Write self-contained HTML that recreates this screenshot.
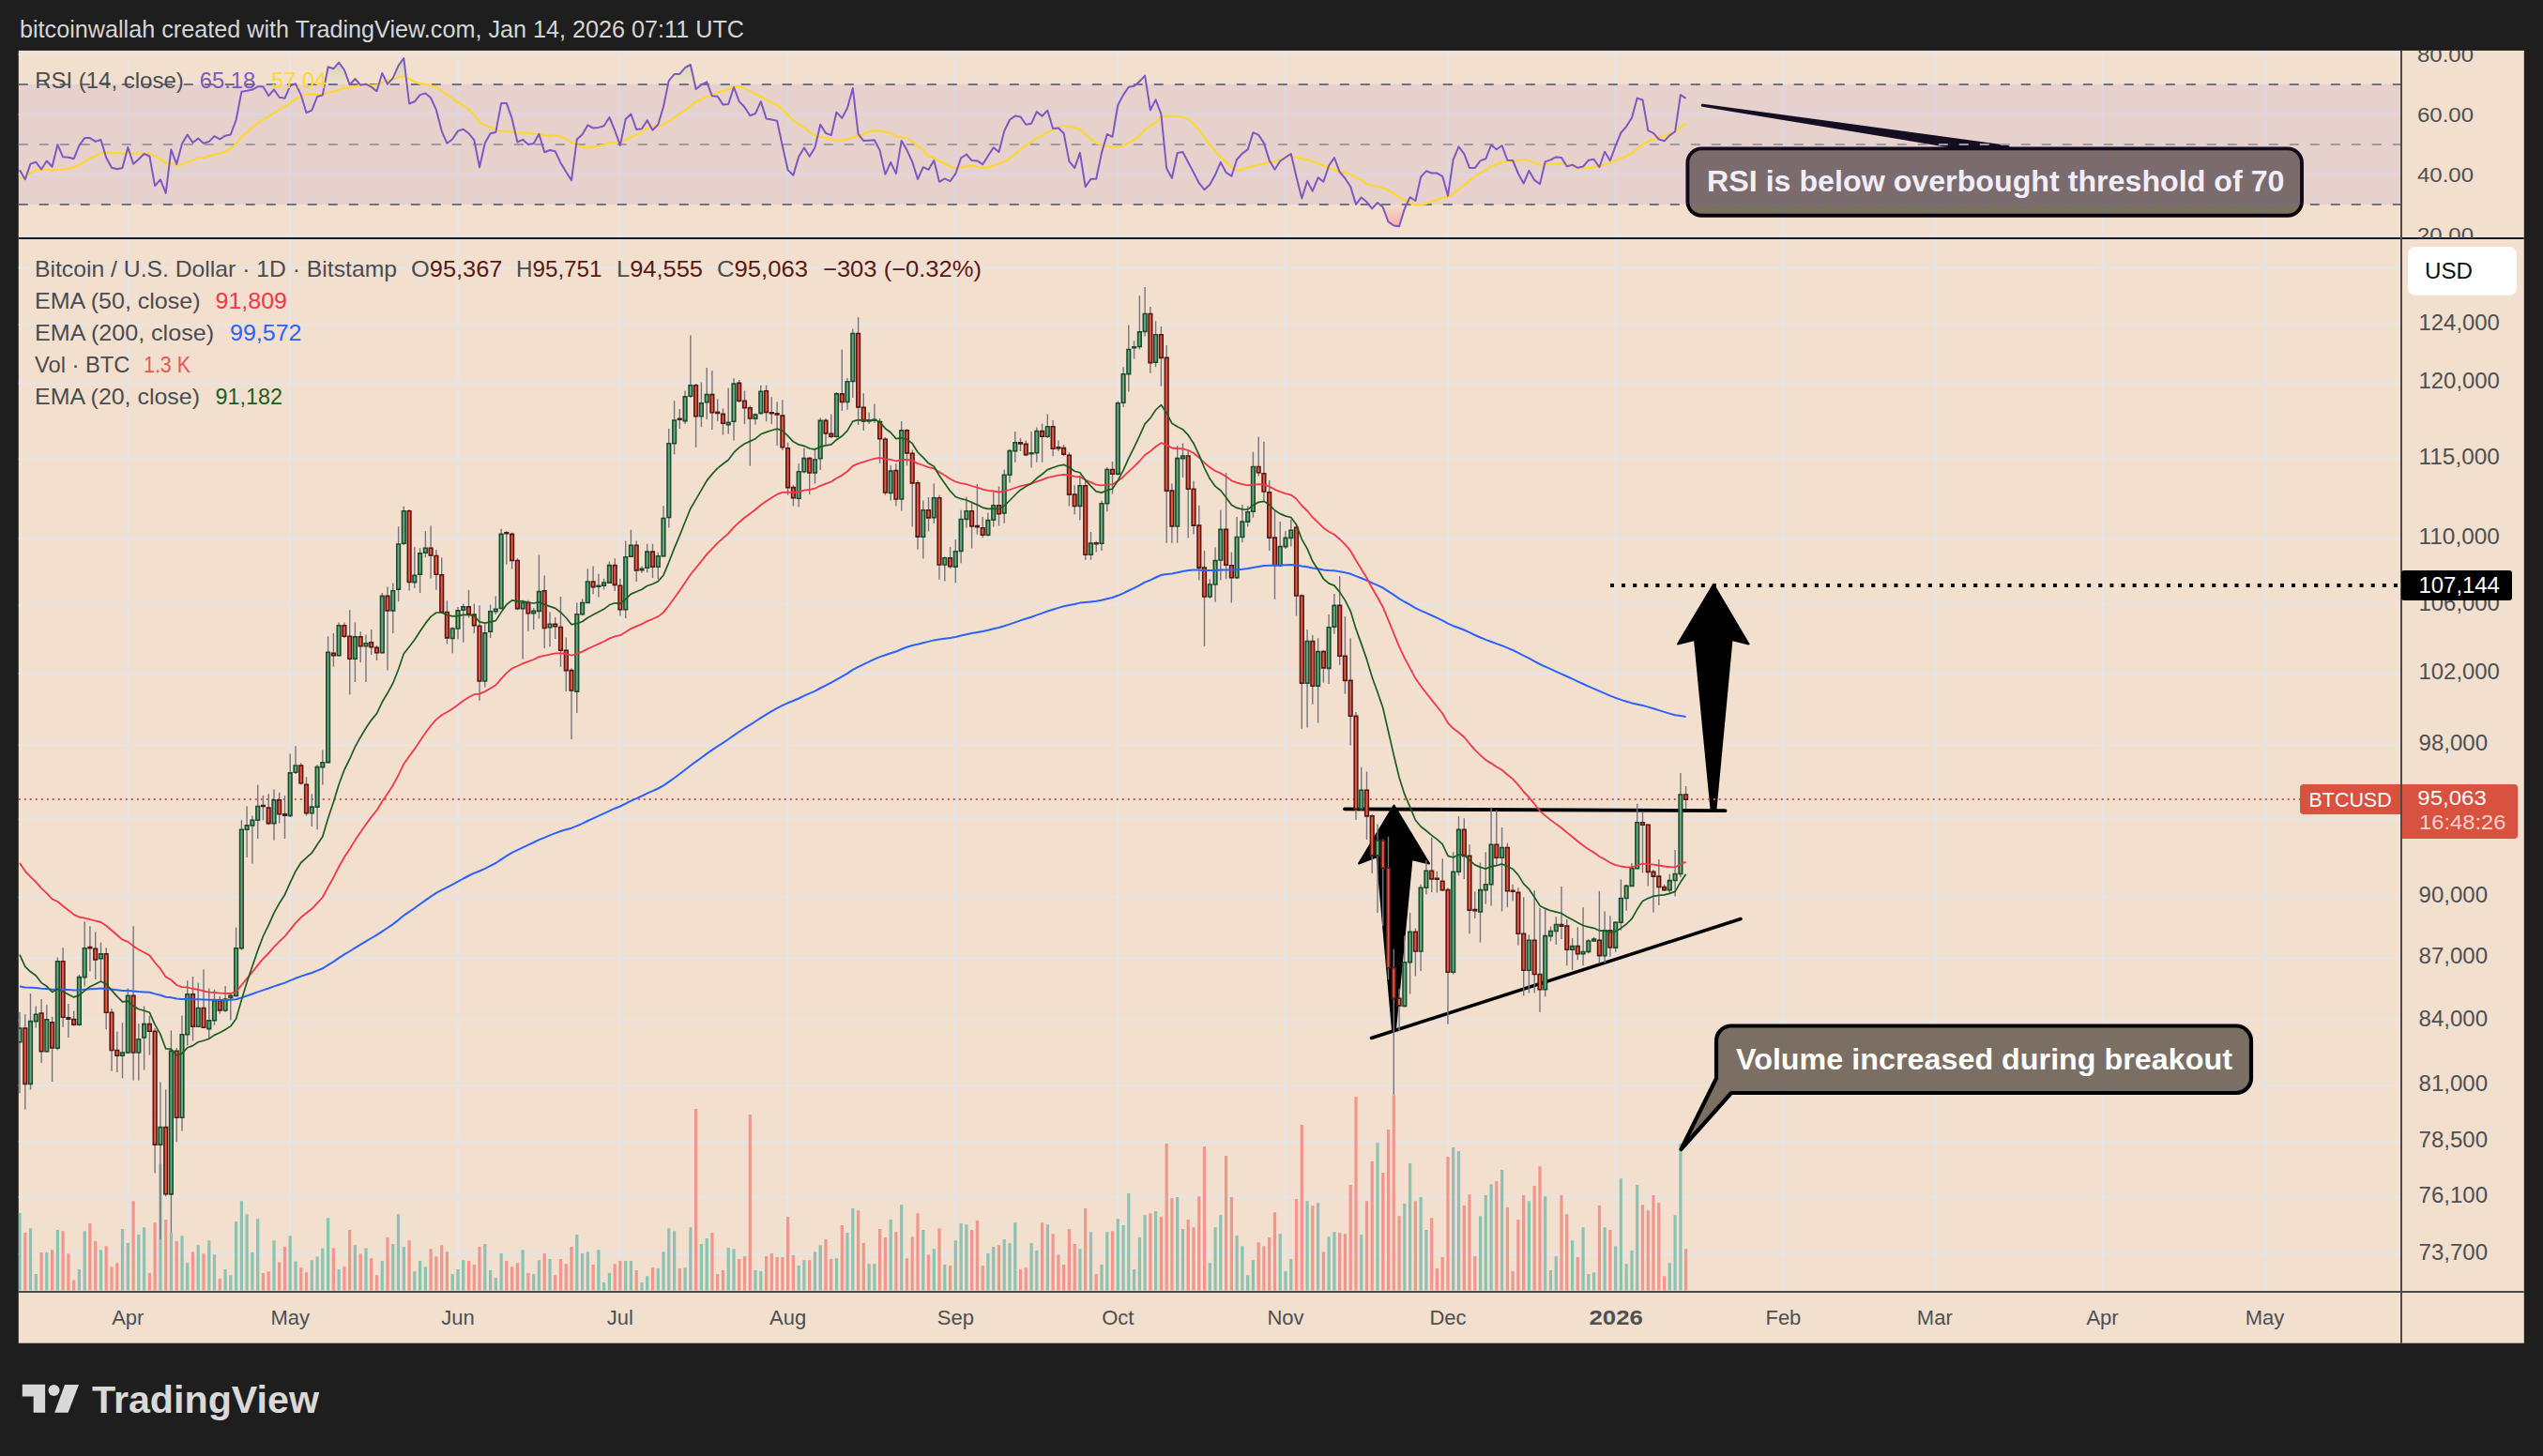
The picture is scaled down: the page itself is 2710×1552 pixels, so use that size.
<!DOCTYPE html>
<html lang="en"><head><meta charset="utf-8"><title>BTCUSD chart</title><style>html,body{margin:0;padding:0;background:#1e1e1e}body{width:2710px;height:1552px;overflow:hidden}</style></head><body>
<svg width="2710" height="1552" viewBox="0 0 2710 1552" style="display:block">
<rect width="2710" height="1552" fill="#1e1e1e"/>
<rect x="19.8" y="53.9" width="2670.0" height="1377.8" fill="#f3dfce"/>
<clipPath id="cm"><rect x="19.8" y="254" width="2539.2" height="1123"/></clipPath>
<clipPath id="cr"><rect x="19.8" y="53.9" width="2539.2" height="200.1"/></clipPath>
<clipPath id="ca"><rect x="2559" y="53.9" width="130.80000000000018" height="200.1"/></clipPath>
<path d="M136.3 53.9V1377M309.2 53.9V1377M488.0 53.9V1377M660.9 53.9V1377M839.6 53.9V1377M1018.3 53.9V1377M1191.3 53.9V1377M1370.0 53.9V1377M1543.0 53.9V1377M1721.7 53.9V1377M1900.4 53.9V1377M2061.8 53.9V1377M2240.5 53.9V1377M2413.5 53.9V1377M19.8 285.6H2559M19.8 346.1H2559M19.8 408.5H2559M19.8 489.6H2559M19.8 574.2H2559M19.8 644.8H2559M19.8 718.0H2559M19.8 794.2H2559M19.8 873.6H2559M19.8 956.4H2559M19.8 1021.0H2559M19.8 1087.8H2559M19.8 1157.1H2559M19.8 1216.8H2559M19.8 1275.9H2559M19.8 1337.0H2559M19.8 57.9H2559M19.8 121.9H2559M19.8 186.0H2559M19.8 250.0H2559" stroke="#e5e5e7" stroke-width="2" fill="none"/>
<path d="M1814.3 112.2L2140 156.5H2082z" fill="#0a0610" stroke="#0a0610" stroke-width="3" stroke-linejoin="round"/>
<rect x="1798.4" y="158.4" width="654.6" height="71.3" rx="15" fill="#3a3129" fill-opacity="0.65" stroke="#05030a" stroke-width="3.9"/>
<text x="1819" y="203.8" font-family="Liberation Sans, Arial, sans-serif" font-size="32" font-weight="bold" fill="#ffffff" textLength="615.5" lengthAdjust="spacingAndGlyphs">RSI is below overbought threshold of 70</text>
<rect x="19.8" y="89.9" width="2539.2" height="128.1" fill="#7e57c2" fill-opacity="0.1"/>
<path d="M19.8 89.9H2559" stroke="#6b7485" stroke-width="2" stroke-dasharray="10 12" fill="none"/>
<path d="M19.8 153.9H2559" stroke="#9b9ba1" stroke-width="2" stroke-dasharray="10 12" fill="none"/>
<path d="M19.8 218.0H2559" stroke="#6b7485" stroke-width="2" stroke-dasharray="10 12" fill="none"/>
<g clip-path="url(#cr)">
<defs><linearGradient id="gob" gradientUnits="userSpaceOnUse" x1="0" y1="51.5" x2="0" y2="89.9"><stop offset="0" stop-color="#4caf50" stop-opacity="0.30"/><stop offset="1" stop-color="#4caf50" stop-opacity="0.02"/></linearGradient><linearGradient id="gos" gradientUnits="userSpaceOnUse" x1="0" y1="218.0" x2="0" y2="250.0"><stop offset="0" stop-color="#ff5252" stop-opacity="0.02"/><stop offset="1" stop-color="#ff5252" stop-opacity="0.45"/></linearGradient></defs>
<clipPath id="c70"><rect x="19.8" y="53.9" width="2539.2" height="36.0"/></clipPath><clipPath id="c30"><rect x="19.8" y="218.0" width="2539.2" height="36.0"/></clipPath>
<g clip-path="url(#c70)"><polygon points="21.0,89.9 21.0,181.2 26.8,191.3 32.5,174.6 38.3,172.8 44.1,180.5 49.8,171.5 55.6,177.8 61.4,154.1 67.1,167.3 72.9,167.8 78.7,169.2 84.4,155.2 90.2,147.1 95.9,147.1 101.7,150.9 107.5,149.0 113.2,168.1 119.0,178.7 124.8,180.2 130.5,179.0 136.3,157.0 142.1,174.8 147.8,169.8 153.6,164.0 159.4,166.5 165.1,198.1 170.9,191.3 176.7,205.9 182.4,159.4 188.2,175.0 194.0,153.2 199.7,143.5 205.5,152.1 211.2,147.4 217.0,152.8 222.8,150.9 228.5,145.1 234.3,148.3 240.1,144.7 245.8,143.5 251.6,128.0 257.4,97.7 263.1,96.8 268.9,95.6 274.7,92.3 280.4,92.3 286.2,102.1 292.0,95.5 297.7,103.8 303.5,104.7 309.2,91.5 315.0,89.3 320.8,101.4 326.5,120.2 332.3,117.7 338.1,103.0 343.8,101.4 349.6,71.2 355.4,73.3 361.1,66.6 366.9,74.5 372.7,90.3 378.4,84.0 384.2,90.6 390.0,89.7 395.7,92.6 401.5,97.2 407.3,78.0 413.0,89.7 418.8,83.2 424.6,69.9 430.3,62.0 436.1,110.5 441.8,108.3 447.6,101.1 453.4,99.4 459.1,104.3 464.9,117.2 470.7,139.6 476.4,152.8 482.2,148.3 488.0,139.6 493.7,137.8 499.5,142.2 505.3,149.3 511.0,178.3 516.8,152.5 522.6,142.2 528.3,141.0 534.1,110.1 539.8,109.9 545.6,126.5 551.4,151.4 557.1,148.8 562.9,154.0 568.7,152.9 574.4,142.8 580.2,162.2 586.0,160.0 591.7,161.3 597.5,173.7 603.3,183.3 609.0,192.2 614.8,148.6 620.6,143.2 626.3,133.4 632.1,136.5 637.9,135.9 643.6,134.2 649.4,125.0 655.2,139.0 660.9,154.9 666.7,127.0 672.4,121.5 678.2,138.0 684.0,137.2 689.7,128.2 695.5,138.7 701.3,132.7 707.0,113.7 712.8,85.9 718.6,79.1 724.3,78.9 730.1,72.2 735.9,69.0 741.6,95.0 747.4,90.4 753.2,87.3 758.9,102.3 764.7,102.8 770.5,111.6 776.2,111.1 782.0,93.0 787.7,108.1 793.5,114.3 799.3,123.3 805.0,121.1 810.8,108.1 816.6,126.5 822.3,127.6 828.1,128.8 833.9,155.8 839.6,181.1 845.4,186.8 851.2,166.9 856.9,157.5 862.7,166.8 868.5,157.3 874.2,132.7 880.0,141.9 885.8,144.1 891.5,119.6 897.3,125.9 903.0,115.2 908.8,93.9 914.6,142.8 920.3,150.1 926.1,149.7 931.9,149.3 937.6,160.4 943.4,185.8 949.2,173.1 954.9,185.1 960.7,149.9 966.5,160.1 972.2,172.4 978.0,191.0 983.8,178.2 989.5,180.9 995.3,171.1 1001.0,193.8 1006.8,190.4 1012.6,193.1 1018.3,185.1 1024.1,168.5 1029.9,164.5 1035.6,171.1 1041.4,171.4 1047.2,175.2 1052.9,166.2 1058.7,157.3 1064.5,162.1 1070.2,139.7 1076.0,127.7 1081.8,123.6 1087.5,124.4 1093.3,132.7 1099.1,131.7 1104.8,119.1 1110.6,123.7 1116.3,117.8 1122.1,137.0 1127.9,136.6 1133.6,142.0 1139.4,171.9 1145.2,179.1 1150.9,162.9 1156.7,199.1 1162.5,190.8 1168.2,190.8 1174.0,162.9 1179.8,143.0 1185.5,145.8 1191.3,112.0 1197.1,101.1 1202.8,92.7 1208.6,91.8 1214.4,86.7 1220.1,80.6 1225.9,117.3 1231.6,106.4 1237.4,121.6 1243.2,179.5 1248.9,189.8 1254.7,163.0 1260.5,162.1 1266.2,173.0 1272.0,183.9 1277.8,195.2 1283.5,202.2 1289.3,196.8 1295.1,186.2 1300.8,172.9 1306.6,183.9 1312.4,187.7 1318.1,170.0 1323.9,163.6 1329.7,159.4 1335.4,141.2 1341.2,143.9 1346.9,152.4 1352.7,170.9 1358.5,180.7 1364.2,171.8 1370.0,167.7 1375.8,164.0 1381.5,188.5 1387.3,211.5 1393.1,192.9 1398.8,203.7 1404.6,189.3 1410.4,193.6 1416.1,176.7 1421.9,168.1 1427.7,183.4 1433.4,190.0 1439.2,199.0 1445.0,217.9 1450.7,210.4 1456.5,215.3 1462.2,222.4 1468.0,216.0 1473.8,221.1 1479.5,236.5 1485.3,240.4 1491.1,241.3 1496.8,222.7 1502.6,210.2 1508.4,214.0 1514.1,188.7 1519.9,182.3 1525.7,184.5 1531.4,184.6 1537.2,187.8 1543.0,208.7 1548.7,170.1 1554.5,156.4 1560.3,164.2 1566.0,178.9 1571.8,179.1 1577.5,171.4 1583.3,169.3 1589.1,154.5 1594.8,159.2 1600.6,155.2 1606.4,170.8 1612.1,171.0 1617.9,185.0 1623.7,195.5 1629.4,181.9 1635.2,191.9 1641.0,196.2 1646.7,172.4 1652.5,170.4 1658.3,167.4 1664.0,168.0 1669.8,177.4 1675.6,175.6 1681.3,178.8 1687.1,177.5 1692.8,170.8 1698.6,169.7 1704.4,178.3 1710.1,161.7 1715.9,171.2 1721.7,155.3 1727.4,141.5 1733.2,134.8 1739.0,125.5 1744.7,104.6 1750.5,106.5 1756.3,139.1 1762.0,141.8 1767.8,148.5 1773.6,150.3 1779.3,144.4 1785.1,140.3 1790.9,101.1 1796.6,104.9 1796.6,89.9" fill="url(#gob)"/></g>
<g clip-path="url(#c30)"><polygon points="21.0,218.0 21.0,181.2 26.8,191.3 32.5,174.6 38.3,172.8 44.1,180.5 49.8,171.5 55.6,177.8 61.4,154.1 67.1,167.3 72.9,167.8 78.7,169.2 84.4,155.2 90.2,147.1 95.9,147.1 101.7,150.9 107.5,149.0 113.2,168.1 119.0,178.7 124.8,180.2 130.5,179.0 136.3,157.0 142.1,174.8 147.8,169.8 153.6,164.0 159.4,166.5 165.1,198.1 170.9,191.3 176.7,205.9 182.4,159.4 188.2,175.0 194.0,153.2 199.7,143.5 205.5,152.1 211.2,147.4 217.0,152.8 222.8,150.9 228.5,145.1 234.3,148.3 240.1,144.7 245.8,143.5 251.6,128.0 257.4,97.7 263.1,96.8 268.9,95.6 274.7,92.3 280.4,92.3 286.2,102.1 292.0,95.5 297.7,103.8 303.5,104.7 309.2,91.5 315.0,89.3 320.8,101.4 326.5,120.2 332.3,117.7 338.1,103.0 343.8,101.4 349.6,71.2 355.4,73.3 361.1,66.6 366.9,74.5 372.7,90.3 378.4,84.0 384.2,90.6 390.0,89.7 395.7,92.6 401.5,97.2 407.3,78.0 413.0,89.7 418.8,83.2 424.6,69.9 430.3,62.0 436.1,110.5 441.8,108.3 447.6,101.1 453.4,99.4 459.1,104.3 464.9,117.2 470.7,139.6 476.4,152.8 482.2,148.3 488.0,139.6 493.7,137.8 499.5,142.2 505.3,149.3 511.0,178.3 516.8,152.5 522.6,142.2 528.3,141.0 534.1,110.1 539.8,109.9 545.6,126.5 551.4,151.4 557.1,148.8 562.9,154.0 568.7,152.9 574.4,142.8 580.2,162.2 586.0,160.0 591.7,161.3 597.5,173.7 603.3,183.3 609.0,192.2 614.8,148.6 620.6,143.2 626.3,133.4 632.1,136.5 637.9,135.9 643.6,134.2 649.4,125.0 655.2,139.0 660.9,154.9 666.7,127.0 672.4,121.5 678.2,138.0 684.0,137.2 689.7,128.2 695.5,138.7 701.3,132.7 707.0,113.7 712.8,85.9 718.6,79.1 724.3,78.9 730.1,72.2 735.9,69.0 741.6,95.0 747.4,90.4 753.2,87.3 758.9,102.3 764.7,102.8 770.5,111.6 776.2,111.1 782.0,93.0 787.7,108.1 793.5,114.3 799.3,123.3 805.0,121.1 810.8,108.1 816.6,126.5 822.3,127.6 828.1,128.8 833.9,155.8 839.6,181.1 845.4,186.8 851.2,166.9 856.9,157.5 862.7,166.8 868.5,157.3 874.2,132.7 880.0,141.9 885.8,144.1 891.5,119.6 897.3,125.9 903.0,115.2 908.8,93.9 914.6,142.8 920.3,150.1 926.1,149.7 931.9,149.3 937.6,160.4 943.4,185.8 949.2,173.1 954.9,185.1 960.7,149.9 966.5,160.1 972.2,172.4 978.0,191.0 983.8,178.2 989.5,180.9 995.3,171.1 1001.0,193.8 1006.8,190.4 1012.6,193.1 1018.3,185.1 1024.1,168.5 1029.9,164.5 1035.6,171.1 1041.4,171.4 1047.2,175.2 1052.9,166.2 1058.7,157.3 1064.5,162.1 1070.2,139.7 1076.0,127.7 1081.8,123.6 1087.5,124.4 1093.3,132.7 1099.1,131.7 1104.8,119.1 1110.6,123.7 1116.3,117.8 1122.1,137.0 1127.9,136.6 1133.6,142.0 1139.4,171.9 1145.2,179.1 1150.9,162.9 1156.7,199.1 1162.5,190.8 1168.2,190.8 1174.0,162.9 1179.8,143.0 1185.5,145.8 1191.3,112.0 1197.1,101.1 1202.8,92.7 1208.6,91.8 1214.4,86.7 1220.1,80.6 1225.9,117.3 1231.6,106.4 1237.4,121.6 1243.2,179.5 1248.9,189.8 1254.7,163.0 1260.5,162.1 1266.2,173.0 1272.0,183.9 1277.8,195.2 1283.5,202.2 1289.3,196.8 1295.1,186.2 1300.8,172.9 1306.6,183.9 1312.4,187.7 1318.1,170.0 1323.9,163.6 1329.7,159.4 1335.4,141.2 1341.2,143.9 1346.9,152.4 1352.7,170.9 1358.5,180.7 1364.2,171.8 1370.0,167.7 1375.8,164.0 1381.5,188.5 1387.3,211.5 1393.1,192.9 1398.8,203.7 1404.6,189.3 1410.4,193.6 1416.1,176.7 1421.9,168.1 1427.7,183.4 1433.4,190.0 1439.2,199.0 1445.0,217.9 1450.7,210.4 1456.5,215.3 1462.2,222.4 1468.0,216.0 1473.8,221.1 1479.5,236.5 1485.3,240.4 1491.1,241.3 1496.8,222.7 1502.6,210.2 1508.4,214.0 1514.1,188.7 1519.9,182.3 1525.7,184.5 1531.4,184.6 1537.2,187.8 1543.0,208.7 1548.7,170.1 1554.5,156.4 1560.3,164.2 1566.0,178.9 1571.8,179.1 1577.5,171.4 1583.3,169.3 1589.1,154.5 1594.8,159.2 1600.6,155.2 1606.4,170.8 1612.1,171.0 1617.9,185.0 1623.7,195.5 1629.4,181.9 1635.2,191.9 1641.0,196.2 1646.7,172.4 1652.5,170.4 1658.3,167.4 1664.0,168.0 1669.8,177.4 1675.6,175.6 1681.3,178.8 1687.1,177.5 1692.8,170.8 1698.6,169.7 1704.4,178.3 1710.1,161.7 1715.9,171.2 1721.7,155.3 1727.4,141.5 1733.2,134.8 1739.0,125.5 1744.7,104.6 1750.5,106.5 1756.3,139.1 1762.0,141.8 1767.8,148.5 1773.6,150.3 1779.3,144.4 1785.1,140.3 1790.9,101.1 1796.6,104.9 1796.6,218.0" fill="url(#gos)"/></g>
<polyline points="21.0,190.1 26.8,187.5 32.5,184.2 38.3,181.2 44.1,180.8 49.8,180.7 55.6,181.7 61.4,180.8 67.1,180.5 72.9,179.7 78.7,178.5 84.4,175.8 90.2,172.2 95.9,168.4 101.7,166.2 107.5,163.2 113.2,162.7 119.0,163.2 124.8,163.1 130.5,163.7 136.3,162.2 142.1,163.7 147.8,163.8 153.6,163.6 159.4,163.4 165.1,166.4 170.9,169.6 176.7,173.8 182.4,174.4 188.2,176.3 194.0,175.2 199.7,172.7 205.5,170.7 211.2,168.4 217.0,168.1 222.8,166.4 228.5,164.6 234.3,163.5 240.1,162.0 245.8,158.1 251.6,153.6 257.4,145.8 263.1,141.4 268.9,135.7 274.7,131.3 280.4,127.7 286.2,124.1 292.0,120.4 297.7,116.9 303.5,113.6 309.2,109.8 315.0,105.6 320.8,102.5 326.5,100.8 332.3,100.1 338.1,100.4 343.8,100.8 349.6,99.0 355.4,97.7 361.1,95.8 366.9,93.9 372.7,93.5 378.4,92.1 384.2,91.1 390.0,90.9 395.7,91.2 401.5,90.9 407.3,87.9 413.0,85.9 418.8,84.5 424.6,82.2 430.3,81.5 436.1,84.2 441.8,87.2 447.6,89.1 453.4,89.7 459.1,91.2 464.9,93.1 470.7,96.6 476.4,100.9 482.2,104.6 488.0,109.0 493.7,112.4 499.5,116.6 505.3,122.3 511.0,130.6 516.8,133.6 522.6,136.0 528.3,138.9 534.1,139.7 539.8,140.1 545.6,140.7 551.4,141.6 557.1,141.3 562.9,141.7 568.7,142.6 574.4,143.0 580.2,144.4 586.0,145.2 591.7,144.0 597.5,145.5 603.3,148.4 609.0,152.1 614.8,154.8 620.6,157.2 626.3,157.7 632.1,156.6 637.9,155.7 643.6,154.3 649.4,152.3 655.2,152.0 660.9,151.5 666.7,149.2 672.4,146.3 678.2,143.8 684.0,140.5 689.7,135.9 695.5,135.2 701.3,134.4 707.0,133.0 712.8,129.4 718.6,125.4 724.3,121.4 730.1,117.6 735.9,112.6 741.6,108.4 747.4,105.7 753.2,103.3 758.9,100.7 764.7,98.3 770.5,97.1 776.2,95.1 782.0,92.3 787.7,91.9 793.5,93.9 799.3,97.1 805.0,100.1 810.8,102.7 816.6,106.8 822.3,109.1 828.1,111.9 833.9,116.7 839.6,122.4 845.4,128.4 851.2,132.3 856.9,135.6 862.7,140.9 868.5,144.4 874.2,145.7 880.0,147.1 885.8,148.7 891.5,149.5 897.3,149.5 903.0,148.6 908.8,146.1 914.6,145.2 920.3,143.0 926.1,140.3 931.9,139.1 937.6,139.3 943.4,140.6 949.2,141.8 954.9,145.5 960.7,146.1 966.5,147.2 972.2,151.0 978.0,155.6 983.8,160.1 989.5,166.4 995.3,168.4 1001.0,171.5 1006.8,174.4 1012.6,177.5 1018.3,179.3 1024.1,178.0 1029.9,177.4 1035.6,176.4 1041.4,178.0 1047.2,179.0 1052.9,178.6 1058.7,176.2 1064.5,175.0 1070.2,172.1 1076.0,169.0 1081.8,164.0 1087.5,159.3 1093.3,155.0 1099.1,151.2 1104.8,147.6 1110.6,144.7 1116.3,140.9 1122.1,138.5 1127.9,135.7 1133.6,134.0 1139.4,135.0 1145.2,136.2 1150.9,137.9 1156.7,143.0 1162.5,147.8 1168.2,152.5 1174.0,154.7 1179.8,155.5 1185.5,157.4 1191.3,156.6 1197.1,155.4 1202.8,152.2 1208.6,149.0 1214.4,145.0 1220.1,138.5 1225.9,134.1 1231.6,130.1 1237.4,124.5 1243.2,123.7 1248.9,123.7 1254.7,123.7 1260.5,125.0 1266.2,127.0 1272.0,132.1 1277.8,138.8 1283.5,146.6 1289.3,154.1 1295.1,161.2 1300.8,167.8 1306.6,172.6 1312.4,178.4 1318.1,181.9 1323.9,180.7 1329.7,178.6 1335.4,177.0 1341.2,175.7 1346.9,174.2 1352.7,173.3 1358.5,172.3 1364.2,170.1 1370.0,168.0 1375.8,166.5 1381.5,167.6 1387.3,169.5 1393.1,169.9 1398.8,172.3 1404.6,174.2 1410.4,176.6 1416.1,179.1 1421.9,180.9 1427.7,183.1 1433.4,184.4 1439.2,185.7 1445.0,189.0 1450.7,192.1 1456.5,195.7 1462.2,198.2 1468.0,198.5 1473.8,200.5 1479.5,202.8 1485.3,206.5 1491.1,209.9 1496.8,213.2 1502.6,216.2 1508.4,218.4 1514.1,218.3 1519.9,217.1 1525.7,214.7 1531.4,212.9 1537.2,210.9 1543.0,209.9 1548.7,206.6 1554.5,202.0 1560.3,196.8 1566.0,192.5 1571.8,188.0 1577.5,184.3 1583.3,181.4 1589.1,177.2 1594.8,175.1 1600.6,173.1 1606.4,172.1 1612.1,171.2 1617.9,171.0 1623.7,170.0 1629.4,170.9 1635.2,173.4 1641.0,175.7 1646.7,175.2 1652.5,174.6 1658.3,174.3 1664.0,174.2 1669.8,175.9 1675.6,177.1 1681.3,178.7 1687.1,179.2 1692.8,179.2 1698.6,178.1 1704.4,176.9 1710.1,175.4 1715.9,174.0 1721.7,171.0 1727.4,168.8 1733.2,166.3 1739.0,163.3 1744.7,158.8 1750.5,153.7 1756.3,151.1 1762.0,148.5 1767.8,146.4 1773.6,144.9 1779.3,143.1 1785.1,140.4 1790.9,136.1 1796.6,131.3" fill="none" stroke="#fdd835" stroke-width="2.2" stroke-linejoin="round"/>
<polyline points="21.0,181.2 26.8,191.3 32.5,174.6 38.3,172.8 44.1,180.5 49.8,171.5 55.6,177.8 61.4,154.1 67.1,167.3 72.9,167.8 78.7,169.2 84.4,155.2 90.2,147.1 95.9,147.1 101.7,150.9 107.5,149.0 113.2,168.1 119.0,178.7 124.8,180.2 130.5,179.0 136.3,157.0 142.1,174.8 147.8,169.8 153.6,164.0 159.4,166.5 165.1,198.1 170.9,191.3 176.7,205.9 182.4,159.4 188.2,175.0 194.0,153.2 199.7,143.5 205.5,152.1 211.2,147.4 217.0,152.8 222.8,150.9 228.5,145.1 234.3,148.3 240.1,144.7 245.8,143.5 251.6,128.0 257.4,97.7 263.1,96.8 268.9,95.6 274.7,92.3 280.4,92.3 286.2,102.1 292.0,95.5 297.7,103.8 303.5,104.7 309.2,91.5 315.0,89.3 320.8,101.4 326.5,120.2 332.3,117.7 338.1,103.0 343.8,101.4 349.6,71.2 355.4,73.3 361.1,66.6 366.9,74.5 372.7,90.3 378.4,84.0 384.2,90.6 390.0,89.7 395.7,92.6 401.5,97.2 407.3,78.0 413.0,89.7 418.8,83.2 424.6,69.9 430.3,62.0 436.1,110.5 441.8,108.3 447.6,101.1 453.4,99.4 459.1,104.3 464.9,117.2 470.7,139.6 476.4,152.8 482.2,148.3 488.0,139.6 493.7,137.8 499.5,142.2 505.3,149.3 511.0,178.3 516.8,152.5 522.6,142.2 528.3,141.0 534.1,110.1 539.8,109.9 545.6,126.5 551.4,151.4 557.1,148.8 562.9,154.0 568.7,152.9 574.4,142.8 580.2,162.2 586.0,160.0 591.7,161.3 597.5,173.7 603.3,183.3 609.0,192.2 614.8,148.6 620.6,143.2 626.3,133.4 632.1,136.5 637.9,135.9 643.6,134.2 649.4,125.0 655.2,139.0 660.9,154.9 666.7,127.0 672.4,121.5 678.2,138.0 684.0,137.2 689.7,128.2 695.5,138.7 701.3,132.7 707.0,113.7 712.8,85.9 718.6,79.1 724.3,78.9 730.1,72.2 735.9,69.0 741.6,95.0 747.4,90.4 753.2,87.3 758.9,102.3 764.7,102.8 770.5,111.6 776.2,111.1 782.0,93.0 787.7,108.1 793.5,114.3 799.3,123.3 805.0,121.1 810.8,108.1 816.6,126.5 822.3,127.6 828.1,128.8 833.9,155.8 839.6,181.1 845.4,186.8 851.2,166.9 856.9,157.5 862.7,166.8 868.5,157.3 874.2,132.7 880.0,141.9 885.8,144.1 891.5,119.6 897.3,125.9 903.0,115.2 908.8,93.9 914.6,142.8 920.3,150.1 926.1,149.7 931.9,149.3 937.6,160.4 943.4,185.8 949.2,173.1 954.9,185.1 960.7,149.9 966.5,160.1 972.2,172.4 978.0,191.0 983.8,178.2 989.5,180.9 995.3,171.1 1001.0,193.8 1006.8,190.4 1012.6,193.1 1018.3,185.1 1024.1,168.5 1029.9,164.5 1035.6,171.1 1041.4,171.4 1047.2,175.2 1052.9,166.2 1058.7,157.3 1064.5,162.1 1070.2,139.7 1076.0,127.7 1081.8,123.6 1087.5,124.4 1093.3,132.7 1099.1,131.7 1104.8,119.1 1110.6,123.7 1116.3,117.8 1122.1,137.0 1127.9,136.6 1133.6,142.0 1139.4,171.9 1145.2,179.1 1150.9,162.9 1156.7,199.1 1162.5,190.8 1168.2,190.8 1174.0,162.9 1179.8,143.0 1185.5,145.8 1191.3,112.0 1197.1,101.1 1202.8,92.7 1208.6,91.8 1214.4,86.7 1220.1,80.6 1225.9,117.3 1231.6,106.4 1237.4,121.6 1243.2,179.5 1248.9,189.8 1254.7,163.0 1260.5,162.1 1266.2,173.0 1272.0,183.9 1277.8,195.2 1283.5,202.2 1289.3,196.8 1295.1,186.2 1300.8,172.9 1306.6,183.9 1312.4,187.7 1318.1,170.0 1323.9,163.6 1329.7,159.4 1335.4,141.2 1341.2,143.9 1346.9,152.4 1352.7,170.9 1358.5,180.7 1364.2,171.8 1370.0,167.7 1375.8,164.0 1381.5,188.5 1387.3,211.5 1393.1,192.9 1398.8,203.7 1404.6,189.3 1410.4,193.6 1416.1,176.7 1421.9,168.1 1427.7,183.4 1433.4,190.0 1439.2,199.0 1445.0,217.9 1450.7,210.4 1456.5,215.3 1462.2,222.4 1468.0,216.0 1473.8,221.1 1479.5,236.5 1485.3,240.4 1491.1,241.3 1496.8,222.7 1502.6,210.2 1508.4,214.0 1514.1,188.7 1519.9,182.3 1525.7,184.5 1531.4,184.6 1537.2,187.8 1543.0,208.7 1548.7,170.1 1554.5,156.4 1560.3,164.2 1566.0,178.9 1571.8,179.1 1577.5,171.4 1583.3,169.3 1589.1,154.5 1594.8,159.2 1600.6,155.2 1606.4,170.8 1612.1,171.0 1617.9,185.0 1623.7,195.5 1629.4,181.9 1635.2,191.9 1641.0,196.2 1646.7,172.4 1652.5,170.4 1658.3,167.4 1664.0,168.0 1669.8,177.4 1675.6,175.6 1681.3,178.8 1687.1,177.5 1692.8,170.8 1698.6,169.7 1704.4,178.3 1710.1,161.7 1715.9,171.2 1721.7,155.3 1727.4,141.5 1733.2,134.8 1739.0,125.5 1744.7,104.6 1750.5,106.5 1756.3,139.1 1762.0,141.8 1767.8,148.5 1773.6,150.3 1779.3,144.4 1785.1,140.3 1790.9,101.1 1796.6,104.9" fill="none" stroke="#7e57c2" stroke-width="2" stroke-linejoin="round"/>
</g>
<g clip-path="url(#cm)">
<g fill="#000" stroke="#000" stroke-linejoin="round" stroke-width="2">
<polygon points="1826,623 1863.5,686.5 1845.5,682 1828.5,862.5 1823.5,862.5 1806,682 1788,686.5"/>
<polygon points="1485.5,858.5 1523,920.5 1504.5,916 1487,1098 1484,1098 1467.5,913 1448,920.5"/>
</g>
<path d="M1433 862.3L1838.5 864.2" stroke="#000" stroke-width="3.8" stroke-linecap="round"/>
<path d="M1461.5 1106.5L1855 979.5" stroke="#000" stroke-width="3.5" stroke-linecap="round"/>
<path d="M1716 624H2559" stroke="#000" stroke-width="4" stroke-dasharray="4 8.1"/>
<path d="M19.4 1292.9h3.2V1375.5h-3.2zM30.9 1309.2h3.2V1375.5h-3.2zM36.7 1358.0h3.2V1375.5h-3.2zM48.2 1335.1h3.2V1375.5h-3.2zM59.8 1311.0h3.2V1375.5h-3.2zM82.8 1353.1h3.2V1375.5h-3.2zM88.6 1312.3h3.2V1375.5h-3.2zM105.9 1332.2h3.2V1375.5h-3.2zM128.9 1310.1h3.2V1375.5h-3.2zM134.7 1325.1h3.2V1375.5h-3.2zM146.2 1316.1h3.2V1375.5h-3.2zM152.0 1308.3h3.2V1375.5h-3.2zM169.3 1240.4h3.2V1375.5h-3.2zM180.8 1313.7h3.2V1375.5h-3.2zM192.4 1317.3h3.2V1375.5h-3.2zM198.1 1346.3h3.2V1375.5h-3.2zM209.6 1327.3h3.2V1375.5h-3.2zM221.2 1322.2h3.2V1375.5h-3.2zM226.9 1337.2h3.2V1375.5h-3.2zM238.5 1353.1h3.2V1375.5h-3.2zM244.2 1359.3h3.2V1375.5h-3.2zM250.0 1302.0h3.2V1375.5h-3.2zM255.8 1280.2h3.2V1375.5h-3.2zM261.5 1294.2h3.2V1375.5h-3.2zM267.3 1335.1h3.2V1375.5h-3.2zM273.1 1299.2h3.2V1375.5h-3.2zM290.4 1322.2h3.2V1375.5h-3.2zM307.6 1317.3h3.2V1375.5h-3.2zM313.4 1344.5h3.2V1375.5h-3.2zM330.7 1343.2h3.2V1375.5h-3.2zM336.5 1339.4h3.2V1375.5h-3.2zM342.2 1330.4h3.2V1375.5h-3.2zM348.0 1298.3h3.2V1375.5h-3.2zM359.5 1353.1h3.2V1375.5h-3.2zM376.8 1327.3h3.2V1375.5h-3.2zM388.4 1330.4h3.2V1375.5h-3.2zM405.7 1344.1h3.2V1375.5h-3.2zM417.2 1326.0h3.2V1375.5h-3.2zM422.9 1294.2h3.2V1375.5h-3.2zM428.7 1329.1h3.2V1375.5h-3.2zM440.2 1355.3h3.2V1375.5h-3.2zM446.0 1344.1h3.2V1375.5h-3.2zM451.8 1350.3h3.2V1375.5h-3.2zM480.6 1358.0h3.2V1375.5h-3.2zM486.4 1353.1h3.2V1375.5h-3.2zM492.1 1343.2h3.2V1375.5h-3.2zM515.2 1326.0h3.2V1375.5h-3.2zM521.0 1354.1h3.2V1375.5h-3.2zM526.7 1362.0h3.2V1375.5h-3.2zM532.5 1336.0h3.2V1375.5h-3.2zM555.5 1332.2h3.2V1375.5h-3.2zM567.1 1358.0h3.2V1375.5h-3.2zM572.8 1343.2h3.2V1375.5h-3.2zM584.4 1342.1h3.2V1375.5h-3.2zM613.2 1316.1h3.2V1375.5h-3.2zM619.0 1336.0h3.2V1375.5h-3.2zM624.7 1334.2h3.2V1375.5h-3.2zM636.3 1332.2h3.2V1375.5h-3.2zM642.0 1367.1h3.2V1375.5h-3.2zM647.8 1357.1h3.2V1375.5h-3.2zM665.1 1344.1h3.2V1375.5h-3.2zM670.8 1344.1h3.2V1375.5h-3.2zM682.4 1367.1h3.2V1375.5h-3.2zM688.1 1360.2h3.2V1375.5h-3.2zM699.7 1352.1h3.2V1375.5h-3.2zM705.4 1334.2h3.2V1375.5h-3.2zM711.2 1309.2h3.2V1375.5h-3.2zM717.0 1312.3h3.2V1375.5h-3.2zM728.5 1351.2h3.2V1375.5h-3.2zM734.3 1308.3h3.2V1375.5h-3.2zM745.8 1326.0h3.2V1375.5h-3.2zM751.6 1320.0h3.2V1375.5h-3.2zM774.6 1330.0h3.2V1375.5h-3.2zM780.4 1331.3h3.2V1375.5h-3.2zM803.4 1354.1h3.2V1375.5h-3.2zM809.2 1355.1h3.2V1375.5h-3.2zM849.6 1349.0h3.2V1375.5h-3.2zM855.3 1343.2h3.2V1375.5h-3.2zM866.9 1334.2h3.2V1375.5h-3.2zM872.6 1327.3h3.2V1375.5h-3.2zM889.9 1341.2h3.2V1375.5h-3.2zM901.4 1314.1h3.2V1375.5h-3.2zM907.2 1288.0h3.2V1375.5h-3.2zM924.5 1347.2h3.2V1375.5h-3.2zM930.3 1347.2h3.2V1375.5h-3.2zM947.6 1300.1h3.2V1375.5h-3.2zM959.1 1284.2h3.2V1375.5h-3.2zM982.2 1311.0h3.2V1375.5h-3.2zM993.7 1331.3h3.2V1375.5h-3.2zM1005.2 1348.1h3.2V1375.5h-3.2zM1016.7 1322.2h3.2V1375.5h-3.2zM1022.5 1304.1h3.2V1375.5h-3.2zM1028.3 1305.2h3.2V1375.5h-3.2zM1051.3 1336.0h3.2V1375.5h-3.2zM1057.1 1329.1h3.2V1375.5h-3.2zM1068.6 1321.1h3.2V1375.5h-3.2zM1074.4 1325.1h3.2V1375.5h-3.2zM1080.2 1303.2h3.2V1375.5h-3.2zM1097.5 1325.1h3.2V1375.5h-3.2zM1103.2 1333.1h3.2V1375.5h-3.2zM1114.8 1305.2h3.2V1375.5h-3.2zM1149.3 1331.3h3.2V1375.5h-3.2zM1160.9 1313.2h3.2V1375.5h-3.2zM1172.4 1348.1h3.2V1375.5h-3.2zM1178.2 1313.2h3.2V1375.5h-3.2zM1189.7 1299.2h3.2V1375.5h-3.2zM1195.5 1306.1h3.2V1375.5h-3.2zM1201.2 1272.1h3.2V1375.5h-3.2zM1207.0 1353.1h3.2V1375.5h-3.2zM1212.8 1319.1h3.2V1375.5h-3.2zM1218.5 1295.3h3.2V1375.5h-3.2zM1230.0 1291.1h3.2V1375.5h-3.2zM1253.1 1276.1h3.2V1375.5h-3.2zM1258.9 1310.1h3.2V1375.5h-3.2zM1287.7 1346.3h3.2V1375.5h-3.2zM1293.5 1308.3h3.2V1375.5h-3.2zM1299.2 1295.3h3.2V1375.5h-3.2zM1316.5 1317.1h3.2V1375.5h-3.2zM1322.3 1328.2h3.2V1375.5h-3.2zM1328.1 1359.3h3.2V1375.5h-3.2zM1333.8 1343.2h3.2V1375.5h-3.2zM1362.6 1315.2h3.2V1375.5h-3.2zM1368.4 1355.1h3.2V1375.5h-3.2zM1374.2 1342.1h3.2V1375.5h-3.2zM1391.5 1280.2h3.2V1375.5h-3.2zM1403.0 1282.2h3.2V1375.5h-3.2zM1414.5 1318.2h3.2V1375.5h-3.2zM1420.3 1313.2h3.2V1375.5h-3.2zM1449.1 1316.1h3.2V1375.5h-3.2zM1466.4 1218.2h3.2V1375.5h-3.2zM1495.2 1283.1h3.2V1375.5h-3.2zM1501.0 1240.1h3.2V1375.5h-3.2zM1512.5 1276.1h3.2V1375.5h-3.2zM1518.3 1311.0h3.2V1375.5h-3.2zM1547.1 1223.1h3.2V1375.5h-3.2zM1552.9 1227.1h3.2V1375.5h-3.2zM1576.0 1296.2h3.2V1375.5h-3.2zM1581.7 1274.1h3.2V1375.5h-3.2zM1587.5 1262.2h3.2V1375.5h-3.2zM1599.0 1247.1h3.2V1375.5h-3.2zM1627.8 1280.2h3.2V1375.5h-3.2zM1645.1 1275.2h3.2V1375.5h-3.2zM1650.9 1354.1h3.2V1375.5h-3.2zM1656.7 1339.0h3.2V1375.5h-3.2zM1674.0 1322.2h3.2V1375.5h-3.2zM1685.5 1308.3h3.2V1375.5h-3.2zM1691.2 1358.0h3.2V1375.5h-3.2zM1697.0 1356.2h3.2V1375.5h-3.2zM1708.5 1308.3h3.2V1375.5h-3.2zM1720.1 1328.2h3.2V1375.5h-3.2zM1725.8 1256.2h3.2V1375.5h-3.2zM1731.6 1347.2h3.2V1375.5h-3.2zM1737.4 1333.1h3.2V1375.5h-3.2zM1743.1 1263.1h3.2V1375.5h-3.2zM1777.7 1346.3h3.2V1375.5h-3.2zM1783.5 1295.3h3.2V1375.5h-3.2zM1789.3 1219.1h3.2V1375.5h-3.2z" fill="#8ac2b4"/><path d="M25.2 1314.1h3.2V1375.5h-3.2zM42.5 1335.1h3.2V1375.5h-3.2zM54.0 1332.2h3.2V1375.5h-3.2zM65.5 1312.3h3.2V1375.5h-3.2zM71.3 1336.3h3.2V1375.5h-3.2zM77.1 1364.4h3.2V1375.5h-3.2zM94.3 1304.1h3.2V1375.5h-3.2zM100.1 1323.1h3.2V1375.5h-3.2zM111.6 1328.2h3.2V1375.5h-3.2zM117.4 1350.3h3.2V1375.5h-3.2zM123.2 1346.3h3.2V1375.5h-3.2zM140.5 1280.2h3.2V1375.5h-3.2zM157.8 1357.1h3.2V1375.5h-3.2zM163.5 1303.2h3.2V1375.5h-3.2zM175.1 1300.1h3.2V1375.5h-3.2zM186.6 1323.1h3.2V1375.5h-3.2zM203.9 1334.2h3.2V1375.5h-3.2zM215.4 1336.3h3.2V1375.5h-3.2zM232.7 1363.1h3.2V1375.5h-3.2zM278.8 1357.1h3.2V1375.5h-3.2zM284.6 1355.3h3.2V1375.5h-3.2zM296.1 1345.4h3.2V1375.5h-3.2zM301.9 1329.1h3.2V1375.5h-3.2zM319.2 1351.3h3.2V1375.5h-3.2zM324.9 1356.2h3.2V1375.5h-3.2zM353.8 1330.4h3.2V1375.5h-3.2zM365.3 1350.3h3.2V1375.5h-3.2zM371.1 1311.0h3.2V1375.5h-3.2zM382.6 1336.3h3.2V1375.5h-3.2zM394.1 1341.2h3.2V1375.5h-3.2zM399.9 1359.3h3.2V1375.5h-3.2zM411.4 1319.1h3.2V1375.5h-3.2zM434.5 1322.2h3.2V1375.5h-3.2zM457.5 1331.3h3.2V1375.5h-3.2zM463.3 1339.4h3.2V1375.5h-3.2zM469.1 1327.3h3.2V1375.5h-3.2zM474.8 1334.2h3.2V1375.5h-3.2zM497.9 1344.1h3.2V1375.5h-3.2zM503.7 1348.1h3.2V1375.5h-3.2zM509.4 1329.1h3.2V1375.5h-3.2zM538.2 1344.1h3.2V1375.5h-3.2zM544.0 1350.3h3.2V1375.5h-3.2zM549.8 1346.3h3.2V1375.5h-3.2zM561.3 1357.1h3.2V1375.5h-3.2zM578.6 1336.0h3.2V1375.5h-3.2zM590.1 1359.3h3.2V1375.5h-3.2zM595.9 1342.1h3.2V1375.5h-3.2zM601.7 1347.2h3.2V1375.5h-3.2zM607.4 1329.1h3.2V1375.5h-3.2zM630.5 1348.1h3.2V1375.5h-3.2zM653.6 1347.2h3.2V1375.5h-3.2zM659.3 1344.1h3.2V1375.5h-3.2zM676.6 1354.1h3.2V1375.5h-3.2zM693.9 1351.2h3.2V1375.5h-3.2zM722.7 1352.1h3.2V1375.5h-3.2zM740.0 1182.0h3.2V1375.5h-3.2zM757.3 1314.1h3.2V1375.5h-3.2zM763.1 1358.0h3.2V1375.5h-3.2zM768.9 1354.1h3.2V1375.5h-3.2zM786.1 1342.1h3.2V1375.5h-3.2zM791.9 1339.0h3.2V1375.5h-3.2zM797.7 1188.0h3.2V1375.5h-3.2zM815.0 1339.0h3.2V1375.5h-3.2zM820.7 1336.0h3.2V1375.5h-3.2zM826.5 1340.1h3.2V1375.5h-3.2zM832.3 1340.1h3.2V1375.5h-3.2zM838.0 1297.1h3.2V1375.5h-3.2zM843.8 1338.1h3.2V1375.5h-3.2zM861.1 1343.2h3.2V1375.5h-3.2zM878.4 1321.1h3.2V1375.5h-3.2zM884.1 1342.1h3.2V1375.5h-3.2zM895.7 1306.1h3.2V1375.5h-3.2zM913.0 1290.2h3.2V1375.5h-3.2zM918.7 1325.1h3.2V1375.5h-3.2zM936.0 1310.1h3.2V1375.5h-3.2zM941.8 1319.1h3.2V1375.5h-3.2zM953.3 1313.2h3.2V1375.5h-3.2zM964.9 1341.2h3.2V1375.5h-3.2zM970.6 1318.2h3.2V1375.5h-3.2zM976.4 1293.3h3.2V1375.5h-3.2zM987.9 1337.2h3.2V1375.5h-3.2zM999.4 1309.2h3.2V1375.5h-3.2zM1011.0 1349.0h3.2V1375.5h-3.2zM1034.0 1311.0h3.2V1375.5h-3.2zM1039.8 1301.0h3.2V1375.5h-3.2zM1045.6 1349.0h3.2V1375.5h-3.2zM1062.9 1327.3h3.2V1375.5h-3.2zM1085.9 1353.1h3.2V1375.5h-3.2zM1091.7 1351.2h3.2V1375.5h-3.2zM1109.0 1303.2h3.2V1375.5h-3.2zM1120.5 1315.2h3.2V1375.5h-3.2zM1126.3 1337.2h3.2V1375.5h-3.2zM1132.0 1348.1h3.2V1375.5h-3.2zM1137.8 1310.1h3.2V1375.5h-3.2zM1143.6 1326.0h3.2V1375.5h-3.2zM1155.1 1288.0h3.2V1375.5h-3.2zM1166.6 1358.0h3.2V1375.5h-3.2zM1183.9 1312.3h3.2V1375.5h-3.2zM1224.3 1293.3h3.2V1375.5h-3.2zM1235.8 1297.1h3.2V1375.5h-3.2zM1241.6 1219.1h3.2V1375.5h-3.2zM1247.3 1277.2h3.2V1375.5h-3.2zM1264.6 1300.1h3.2V1375.5h-3.2zM1270.4 1308.3h3.2V1375.5h-3.2zM1276.2 1275.2h3.2V1375.5h-3.2zM1281.9 1222.0h3.2V1375.5h-3.2zM1305.0 1232.1h3.2V1375.5h-3.2zM1310.8 1276.1h3.2V1375.5h-3.2zM1339.6 1324.2h3.2V1375.5h-3.2zM1345.3 1328.2h3.2V1375.5h-3.2zM1351.1 1319.1h3.2V1375.5h-3.2zM1356.9 1292.2h3.2V1375.5h-3.2zM1379.9 1278.1h3.2V1375.5h-3.2zM1385.7 1199.0h3.2V1375.5h-3.2zM1397.2 1285.1h3.2V1375.5h-3.2zM1408.8 1334.2h3.2V1375.5h-3.2zM1426.1 1314.1h3.2V1375.5h-3.2zM1431.8 1315.2h3.2V1375.5h-3.2zM1437.6 1263.1h3.2V1375.5h-3.2zM1443.4 1169.0h3.2V1375.5h-3.2zM1454.9 1280.2h3.2V1375.5h-3.2zM1460.6 1238.1h3.2V1375.5h-3.2zM1472.2 1250.0h3.2V1375.5h-3.2zM1477.9 1204.1h3.2V1375.5h-3.2zM1483.7 1167.2h3.2V1375.5h-3.2zM1489.5 1296.2h3.2V1375.5h-3.2zM1506.8 1280.2h3.2V1375.5h-3.2zM1524.1 1298.2h3.2V1375.5h-3.2zM1529.8 1352.1h3.2V1375.5h-3.2zM1535.6 1340.1h3.2V1375.5h-3.2zM1541.4 1233.0h3.2V1375.5h-3.2zM1558.7 1285.1h3.2V1375.5h-3.2zM1564.4 1273.2h3.2V1375.5h-3.2zM1570.2 1339.0h3.2V1375.5h-3.2zM1593.2 1259.1h3.2V1375.5h-3.2zM1604.8 1287.1h3.2V1375.5h-3.2zM1610.5 1355.1h3.2V1375.5h-3.2zM1616.3 1300.1h3.2V1375.5h-3.2zM1622.1 1274.1h3.2V1375.5h-3.2zM1633.6 1264.1h3.2V1375.5h-3.2zM1639.4 1243.2h3.2V1375.5h-3.2zM1662.4 1274.1h3.2V1375.5h-3.2zM1668.2 1294.2h3.2V1375.5h-3.2zM1679.7 1340.1h3.2V1375.5h-3.2zM1702.8 1285.1h3.2V1375.5h-3.2zM1714.3 1311.0h3.2V1375.5h-3.2zM1748.9 1284.2h3.2V1375.5h-3.2zM1754.7 1290.2h3.2V1375.5h-3.2zM1760.4 1274.1h3.2V1375.5h-3.2zM1766.2 1282.2h3.2V1375.5h-3.2zM1772.0 1360.2h3.2V1375.5h-3.2zM1795.0 1331.3h3.2V1375.5h-3.2z" fill="#f0968d"/>
<path d="M19.8 852H2452" stroke="#d9534a" stroke-width="2" stroke-dasharray="2 4"/>
<path d="M21.0 1078.7V1165.3M26.8 1081.2V1182.6M32.5 1058.9V1161.6M38.3 1072.5V1095.5M44.1 1065.1V1133.1M49.8 1071.3V1122.0M55.6 1083.7V1152.9M61.4 1020.6V1119.5M67.1 1010.2V1094.8M72.9 1070.1V1105.9M78.7 1077.5V1093.6M84.4 1039.1V1093.6M90.2 982.3V1051.5M95.9 987.2V1035.4M101.7 993.4V1044.1M107.5 1004.5V1045.3M113.2 1010.2V1097.3M119.0 1075.0V1141.8M124.8 1099.7V1143.0M130.5 1090.3V1149.2M136.3 1053.5V1123.2M142.1 987.2V1151.7M147.8 1091.1V1151.7M153.6 1072.5V1140.5M159.4 1082.9V1124.5M165.1 1096.0V1250.6M170.9 1153.4V1321.1M176.7 1161.6V1275.3M182.4 1098.5V1313.7M188.2 1117.0V1217.2M194.0 1082.4V1205.6M199.7 1045.3V1114.6M205.5 1041.1V1109.6M211.2 1047.8V1094.8M217.0 1033.5V1096.0M222.8 1053.5V1107.2M228.5 1054.7V1092.8M234.3 1062.1V1080.4M240.1 1051.0V1078.7M245.8 1058.4V1087.4M251.6 988.4V1062.6M257.4 874.3V1012.7M263.1 859.5V913.9M268.9 869.4V920.5M274.7 836.4V894.1M280.4 847.9V874.3M286.2 846.3V879.3M292.0 841.4V895.7M297.7 844.7V877.6M303.5 847.9V894.1M309.2 803.5V871.0M315.0 795.2V824.9M320.8 813.3V836.4M326.5 828.2V869.4M332.3 846.3V880.9M338.1 815.0V884.2M343.8 799.5V836.4M349.6 678.2V813.3M355.4 674.9V710.5M361.1 663.4V699.6M366.9 663.4V679.9M372.7 650.2V740.2M378.4 663.4V727.0M384.2 673.3V706.2M390.0 676.6V727.0M395.7 671.0V698.0M401.5 688.1V703.9M407.3 632.1V696.3M413.0 625.5V714.5M418.8 621.5V674.9M424.6 561.2V641.3M430.3 539.8V581.0M436.1 543.1V629.4M441.8 583.3V627.1M447.6 584.3V632.1M453.4 566.1V594.2M459.1 560.2V616.6M464.9 585.9V628.8M470.7 594.2V653.5M476.4 640.3V686.4M482.2 668.3V696.3M488.0 646.9V681.5M493.7 643.6V684.8M499.5 628.8V658.4M505.3 643.6V674.9M511.0 645.2V746.8M516.8 665.0V732.6M522.6 644.6V679.9M528.3 635.4V655.1M534.1 563.8V649.2M539.8 566.1V601.7M545.6 567.8V606.4M551.4 595.1V650.2M557.1 639.8V702.4M562.9 639.8V672.8M568.7 648.1V671.1M574.4 591.4V659.6M580.2 613.5V690.9M586.0 652.3V689.3M591.7 657.9V681.0M597.5 635.9V710.7M603.3 679.4V737.1M609.0 712.3V788.1M614.8 642.5V760.1M620.6 638.2V656.3M626.3 606.2V643.1M632.1 603.6V633.2M637.9 611.8V636.5M643.6 616.8V628.3M649.4 598.6V621.7M655.2 595.3V629.9M660.9 616.8V656.3M666.7 576.5V658.9M672.4 564.7V593.7M678.2 576.5V620.0M684.0 603.6V610.8M689.7 579.8V610.2M695.5 579.8V616.1M701.3 588.7V617.4M707.0 539.3V593.7M712.8 456.9V562.4M718.6 427.2V484.3M724.3 436.1V456.9M730.1 416.4V452.0M735.9 357.4V423.9M741.6 409.1V476.7M747.4 407.5V455.2M753.2 392.0V447.0M758.9 394.9V457.9M764.7 425.6V448.7M770.5 435.5V463.5M776.2 413.4V462.5M782.0 403.2V469.4M787.7 405.1V428.9M793.5 416.4V452.0M799.3 432.2V496.4M805.0 440.4V452.6M810.8 410.8V442.1M816.6 410.8V449.3M822.3 423.3V452.0M828.1 428.2V475.0M833.9 426.2V480.0M839.6 471.7V527.8M845.4 517.3V539.5M851.2 493.9V540.2M856.9 477.6V504.4M862.7 486.9V527.3M868.5 477.6V515.6M874.2 445.6V500.9M880.0 446.1V474.1M885.8 441.4V467.1M891.5 418.1V466.6M897.3 372.5V437.9M903.0 402.9V436.7M908.8 350.4V423.9M914.6 338.2V453.1M920.3 419.2V458.9M926.1 439.5V451.9M931.9 430.4V450.7M937.6 446.1V493.9M943.4 465.9V527.8M949.2 496.3V533.6M954.9 493.9V539.5M960.7 449.1V544.6M966.5 457.3V496.3M972.2 479.5V561.6M978.0 512.1V585.7M983.8 533.6V595.5M989.5 530.1V566.3M995.3 515.6V558.1M1001.0 527.8V617.7M1006.8 593.2V619.5M1012.6 583.3V606.0M1018.3 575.2V621.2M1024.1 543.7V600.2M1029.9 529.4V562.8M1035.6 534.8V584.5M1041.4 516.1V569.8M1047.2 551.1V573.3M1052.9 546.5V571.7M1058.7 524.3V561.6M1064.5 518.4V560.5M1070.2 500.5V557.7M1076.0 478.8V514.5M1081.8 460.1V492.8M1087.5 467.1V481.1M1093.3 469.4V486.2M1099.1 460.1V498.6M1104.8 455.4V492.8M1110.6 451.4V492.8M1116.3 441.4V467.1M1122.1 447.9V486.2M1127.9 469.4V481.1M1133.6 474.1V486.2M1139.4 482.3V539.5M1145.2 517.3V548.3M1150.9 506.8V554.6M1156.7 512.1V596.7M1162.5 567.0V596.7M1168.2 576.8V588.5M1174.0 533.6V586.9M1179.8 498.1V545.3M1185.5 492.1V526.6M1191.3 427.4V506.8M1197.1 391.2V433.9M1202.8 346.4V417.6M1208.6 363.2V382.6M1214.4 315.3V372.5M1220.1 306.0V358.5M1225.9 327.0V397.7M1231.6 342.2V391.2M1237.4 348.0V411.8M1243.2 367.9V578.7M1248.9 515.6V578.7M1254.7 475.3V578.7M1260.5 472.4V509.1M1266.2 480.2V573.4M1272.0 512.5V569.6M1277.8 538.8V618.6M1283.5 586.9V688.7M1289.3 617.2V637.9M1295.1 583.4V641.7M1300.8 543.7V618.6M1306.6 503.9V617.2M1312.4 588.4V642.6M1318.1 550.9V617.2M1323.9 537.9V578.3M1329.7 539.3V561.5M1335.4 481.7V551.7M1341.2 465.8V507.6M1346.9 470.7V533.6M1352.7 511.9V586.9M1358.5 545.1V638.8M1364.2 556.1V604.2M1370.0 565.9V584.9M1375.8 553.7V582.6M1381.5 558.5V656.5M1387.3 633.5V776.7M1393.1 671.0V775.4M1398.8 677.1V750.8M1404.6 680.2V770.6M1410.4 693.1V727.7M1416.1 655.0V729.0M1421.9 633.1V675.8M1427.7 614.2V708.8M1433.4 657.1V739.8M1439.2 680.2V794.6M1445.0 759.0V873.9M1450.7 817.8V863.4M1456.5 822.5V894.9M1462.2 868.0V931.1M1468.0 878.5V973.1M1473.8 894.2V987.1M1479.5 891.8V1044.3M1485.3 1011.6V1167.0M1491.1 1053.7V1099.2M1496.8 997.6V1073.5M1502.6 973.1V1059.5M1508.4 989.5V1040.4M1514.1 942.8V1035.0M1519.9 917.1V953.3M1525.7 892.5V950.9M1531.4 928.7V951.6M1537.2 915.2V949.8M1543.0 946.3V1091.8M1548.7 908.2V1038.5M1554.5 869.9V933.4M1560.3 872.2V936.9M1566.0 900.3V995.3M1571.8 950.2V979.0M1577.5 919.4V1004.6M1583.3 908.2V963.8M1589.1 860.6V965.6M1594.8 863.4V922.9M1600.6 882.0V971.5M1606.4 898.4V967.3M1612.1 942.8V960.3M1617.9 946.3V1007.7M1623.7 956.3V1061.4M1629.4 996.5V1058.4M1635.2 949.3V1058.4M1641.0 968.0V1078.7M1646.7 969.6V1062.3M1652.5 987.6V1003.5M1658.3 977.3V1007.0M1664.0 945.1V1001.1M1669.8 980.1V1029.2M1675.6 1000.0V1033.8M1681.3 988.3V1023.3M1687.1 967.3V1029.2M1692.8 1001.1V1016.3M1698.6 998.8V1003.5M1704.4 949.8V1026.4M1710.1 971.5V1026.4M1715.9 976.2V1019.8M1721.7 982.0V1014.7M1727.4 937.6V991.8M1733.2 942.8V970.8M1739.0 920.1V945.1M1744.7 856.8V926.4M1750.5 865.7V930.6M1756.3 878.5V944.6M1762.0 927.1V972.6M1767.8 915.9V964.9M1773.6 942.8V949.8M1779.3 931.8V953.3M1785.1 906.1V955.6M1790.9 824.1V935.3M1796.6 838.1V862.0" stroke="#737680" stroke-width="1.4" fill="none"/>
<path d="M19.2 1096.0h3.6v14.8h-3.6zM30.7 1088.6h3.6v66.8h-3.6zM36.5 1081.2h3.6v7.4h-3.6zM48.0 1086.9h3.6v33.9h-3.6zM59.6 1024.8h3.6v92.3h-3.6zM82.6 1041.6h3.6v50.7h-3.6zM88.4 1010.7h3.6v30.9h-3.6zM105.7 1016.9h3.6v4.9h-3.6zM128.7 1122.0h3.6v3.2h-3.6zM134.5 1061.4h3.6v60.6h-3.6zM146.0 1107.7h3.6v14.3h-3.6zM151.8 1091.6h3.6v14.3h-3.6zM169.1 1201.6h3.6v18.5h-3.6zM180.6 1120.3h3.6v152.6h-3.6zM192.2 1102.7h3.6v88.5h-3.6zM197.9 1059.7h3.6v43.0h-3.6zM209.4 1074.5h3.6v19.8h-3.6zM221.0 1087.9h3.6v8.7h-3.6zM226.7 1066.8h3.6v21.0h-3.6zM238.3 1065.1h3.6v11.9h-3.6zM244.0 1061.4h3.6v2.0h-3.6zM249.8 1010.7h3.6v50.7h-3.6zM255.6 884.2h3.6v126.6h-3.6zM261.3 879.9h3.6v4.3h-3.6zM267.1 874.3h3.6v5.6h-3.6zM272.9 859.5h3.6v14.8h-3.6zM290.2 852.9h3.6v24.7h-3.6zM307.4 823.9h3.6v45.5h-3.6zM313.2 816.0h3.6v7.3h-3.6zM330.5 860.1h3.6v6.6h-3.6zM336.3 817.6h3.6v42.5h-3.6zM342.0 812.7h3.6v4.9h-3.6zM347.8 695.3h3.6v117.3h-3.6zM359.3 666.7h3.6v32.0h-3.6zM376.6 678.9h3.6v23.4h-3.6zM388.2 685.8h3.6v3.0h-3.6zM405.5 635.4h3.6v60.3h-3.6zM417.0 629.8h3.6v21.1h-3.6zM422.8 580.0h3.6v48.1h-3.6zM428.5 544.7h3.6v34.6h-3.6zM440.0 613.3h3.6v7.3h-3.6zM445.8 589.9h3.6v22.4h-3.6zM451.6 584.3h3.6v4.9h-3.6zM480.4 670.0h3.6v10.5h-3.6zM486.2 650.9h3.6v19.1h-3.6zM491.9 646.9h3.6v3.3h-3.6zM515.0 674.9h3.6v51.1h-3.6zM520.8 651.8h3.6v21.4h-3.6zM526.5 649.2h3.6v2.6h-3.6zM532.3 569.4h3.6v79.1h-3.6zM555.3 642.5h3.6v6.3h-3.6zM566.9 651.4h3.6v2.3h-3.6zM572.6 630.6h3.6v20.8h-3.6zM584.2 665.2h3.6v3.6h-3.6zM613.0 654.7h3.6v82.4h-3.6zM618.8 642.5h3.6v12.2h-3.6zM624.5 620.0h3.6v22.4h-3.6zM636.1 624.3h3.6v1.0h-3.6zM641.8 621.0h3.6v3.3h-3.6zM647.6 602.6h3.6v18.5h-3.6zM664.9 593.7h3.6v56.0h-3.6zM670.6 581.2h3.6v11.9h-3.6zM682.2 606.2h3.6v1.6h-3.6zM687.9 588.1h3.6v17.1h-3.6zM699.5 592.7h3.6v11.5h-3.6zM705.2 552.5h3.6v40.2h-3.6zM711.0 472.7h3.6v78.8h-3.6zM716.8 448.0h3.6v24.7h-3.6zM728.3 422.9h3.6v25.7h-3.6zM734.1 410.8h3.6v11.5h-3.6zM745.6 429.9h3.6v13.8h-3.6zM751.4 420.6h3.6v8.2h-3.6zM774.4 450.3h3.6v2.3h-3.6zM780.2 409.1h3.6v40.2h-3.6zM803.2 442.1h3.6v4.0h-3.6zM809.0 417.3h3.6v23.1h-3.6zM849.4 502.8h3.6v28.5h-3.6zM855.1 488.6h3.6v14.2h-3.6zM866.7 490.0h3.6v14.0h-3.6zM872.4 448.4h3.6v40.4h-3.6zM889.7 419.9h3.6v45.3h-3.6zM901.2 406.8h3.6v21.7h-3.6zM907.0 355.5h3.6v50.9h-3.6zM924.3 447.9h3.6v1.0h-3.6zM930.1 447.2h3.6v1.0h-3.6zM947.4 502.1h3.6v23.3h-3.6zM958.9 458.9h3.6v73.1h-3.6zM982.0 543.7h3.6v28.5h-3.6zM993.5 530.8h3.6v21.0h-3.6zM1005.0 594.8h3.6v7.2h-3.6zM1016.5 587.8h3.6v16.3h-3.6zM1022.3 553.5h3.6v33.9h-3.6zM1028.1 544.8h3.6v8.6h-3.6zM1051.1 554.6h3.6v15.6h-3.6zM1056.9 538.8h3.6v15.4h-3.6zM1068.4 506.3h3.6v40.6h-3.6zM1074.2 480.6h3.6v25.7h-3.6zM1080.0 471.8h3.6v8.9h-3.6zM1097.3 482.7h3.6v1.0h-3.6zM1103.0 459.6h3.6v23.1h-3.6zM1114.5 454.7h3.6v10.5h-3.6zM1149.1 517.7h3.6v21.7h-3.6zM1160.7 579.1h3.6v12.1h-3.6zM1172.2 536.7h3.6v42.5h-3.6zM1178.0 500.5h3.6v36.2h-3.6zM1189.5 429.7h3.6v75.4h-3.6zM1195.3 398.7h3.6v30.6h-3.6zM1201.0 372.5h3.6v26.1h-3.6zM1206.8 369.7h3.6v1.0h-3.6zM1212.6 353.9h3.6v15.6h-3.6zM1218.3 334.5h3.6v18.9h-3.6zM1229.8 356.7h3.6v29.4h-3.6zM1252.9 488.6h3.6v72.4h-3.6zM1258.7 486.0h3.6v2.6h-3.6zM1287.5 623.0h3.6v13.0h-3.6zM1293.3 597.6h3.6v25.4h-3.6zM1299.0 564.4h3.6v32.6h-3.6zM1316.3 572.5h3.6v43.3h-3.6zM1322.1 556.1h3.6v16.4h-3.6zM1327.9 545.7h3.6v10.4h-3.6zM1333.6 497.5h3.6v47.6h-3.6zM1362.4 582.6h3.6v20.2h-3.6zM1368.2 573.4h3.6v9.2h-3.6zM1374.0 565.3h3.6v8.1h-3.6zM1391.3 683.5h3.6v44.8h-3.6zM1402.8 694.6h3.6v36.5h-3.6zM1414.3 668.7h3.6v43.7h-3.6zM1420.1 645.4h3.6v22.7h-3.6zM1448.9 842.3h3.6v19.9h-3.6zM1466.2 896.0h3.6v15.9h-3.6zM1495.0 1025.7h3.6v46.7h-3.6zM1500.8 993.4h3.6v32.2h-3.6zM1512.3 946.3h3.6v67.7h-3.6zM1518.1 928.3h3.6v18.0h-3.6zM1546.9 929.2h3.6v107.0h-3.6zM1552.7 884.4h3.6v44.8h-3.6zM1575.8 948.6h3.6v23.4h-3.6zM1581.5 942.8h3.6v5.8h-3.6zM1587.3 900.3h3.6v42.5h-3.6zM1598.8 903.5h3.6v10.7h-3.6zM1627.6 1002.3h3.6v32.0h-3.6zM1644.9 997.6h3.6v57.2h-3.6zM1650.7 992.5h3.6v5.1h-3.6zM1656.5 985.5h3.6v7.0h-3.6zM1673.8 1008.6h3.6v3.7h-3.6zM1685.3 1014.5h3.6v2.3h-3.6zM1691.0 1003.0h3.6v11.4h-3.6zM1696.8 1001.1h3.6v1.9h-3.6zM1708.3 991.8h3.6v26.9h-3.6zM1719.9 983.2h3.6v26.9h-3.6zM1725.6 957.5h3.6v25.7h-3.6zM1731.4 944.4h3.6v13.1h-3.6zM1737.2 925.7h3.6v18.7h-3.6zM1742.9 876.7h3.6v49.0h-3.6zM1777.5 938.6h3.6v10.0h-3.6zM1783.3 931.5h3.6v7.0h-3.6zM1789.1 847.0h3.6v84.5h-3.6z" fill="#66a882" stroke="#1b4d2d" stroke-width="1.6"/>
<path d="M25.0 1096.0h3.6v59.4h-3.6zM42.3 1080.0h3.6v40.8h-3.6zM53.8 1089.8h3.6v27.2h-3.6zM65.3 1024.8h3.6v59.4h-3.6zM71.1 1084.9h3.6v1.2h-3.6zM76.9 1086.6h3.6v5.7h-3.6zM94.1 1009.5h3.6v1.2h-3.6zM99.9 1011.4h3.6v11.6h-3.6zM111.4 1016.9h3.6v62.3h-3.6zM117.2 1079.2h3.6v40.3h-3.6zM123.0 1119.5h3.6v5.7h-3.6zM140.3 1061.4h3.6v60.6h-3.6zM157.6 1091.6h3.6v7.7h-3.6zM163.3 1099.2h3.6v120.9h-3.6zM174.9 1201.6h3.6v71.2h-3.6zM186.4 1120.3h3.6v71.0h-3.6zM203.7 1059.7h3.6v34.6h-3.6zM215.2 1074.5h3.6v20.8h-3.6zM232.5 1066.8h3.6v10.1h-3.6zM278.6 858.5h3.6v1.0h-3.6zM284.4 861.1h3.6v16.5h-3.6zM295.9 852.9h3.6v14.8h-3.6zM301.7 867.7h3.6v1.6h-3.6zM319.0 816.0h3.6v18.8h-3.6zM324.7 836.4h3.6v30.3h-3.6zM353.6 696.3h3.6v2.3h-3.6zM365.1 666.7h3.6v11.5h-3.6zM370.9 678.2h3.6v24.1h-3.6zM382.4 678.9h3.6v9.9h-3.6zM393.9 684.8h3.6v4.9h-3.6zM399.7 690.4h3.6v5.3h-3.6zM411.2 635.4h3.6v15.5h-3.6zM434.3 544.7h3.6v75.8h-3.6zM457.3 584.3h3.6v7.6h-3.6zM463.1 592.5h3.6v19.8h-3.6zM468.9 612.9h3.6v39.6h-3.6zM474.6 652.5h3.6v27.4h-3.6zM497.7 646.9h3.6v7.6h-3.6zM503.5 655.1h3.6v11.5h-3.6zM509.2 667.3h3.6v58.7h-3.6zM538.0 567.8h3.6v1.0h-3.6zM543.8 569.4h3.6v28.0h-3.6zM549.6 597.5h3.6v51.1h-3.6zM561.1 642.5h3.6v11.2h-3.6zM578.4 629.9h3.6v39.6h-3.6zM589.9 665.2h3.6v2.6h-3.6zM595.7 668.5h3.6v24.7h-3.6zM601.5 693.2h3.6v21.4h-3.6zM607.2 714.6h3.6v21.4h-3.6zM630.3 620.0h3.6v5.6h-3.6zM653.4 602.6h3.6v20.8h-3.6zM659.1 624.3h3.6v25.4h-3.6zM676.4 581.2h3.6v26.7h-3.6zM693.7 588.1h3.6v16.2h-3.6zM722.5 446.3h3.6v1.0h-3.6zM739.8 410.8h3.6v33.0h-3.6zM757.1 420.6h3.6v19.1h-3.6zM762.9 439.4h3.6v1.0h-3.6zM768.7 441.4h3.6v9.9h-3.6zM785.9 408.4h3.6v18.8h-3.6zM791.7 427.2h3.6v7.6h-3.6zM797.5 434.8h3.6v11.2h-3.6zM814.8 416.7h3.6v22.7h-3.6zM820.5 439.8h3.6v1.0h-3.6zM826.3 440.7h3.6v1.3h-3.6zM832.1 443.1h3.6v33.6h-3.6zM837.8 477.7h3.6v41.9h-3.6zM843.6 519.6h3.6v11.2h-3.6zM860.9 488.6h3.6v15.4h-3.6zM878.2 448.4h3.6v13.5h-3.6zM884.0 462.4h3.6v2.8h-3.6zM895.5 419.9h3.6v8.6h-3.6zM912.8 355.5h3.6v78.4h-3.6zM918.5 434.4h3.6v14.5h-3.6zM935.8 449.6h3.6v18.2h-3.6zM941.6 468.3h3.6v56.7h-3.6zM953.1 501.6h3.6v30.4h-3.6zM964.7 458.9h3.6v24.0h-3.6zM970.4 483.4h3.6v31.5h-3.6zM976.2 514.9h3.6v57.2h-3.6zM987.7 543.7h3.6v8.2h-3.6zM999.2 530.8h3.6v71.2h-3.6zM1010.8 594.8h3.6v8.9h-3.6zM1033.8 544.8h3.6v16.1h-3.6zM1039.6 560.5h3.6v1.2h-3.6zM1045.4 562.8h3.6v7.5h-3.6zM1062.7 538.8h3.6v8.9h-3.6zM1085.7 471.8h3.6v1.2h-3.6zM1091.5 473.4h3.6v11.2h-3.6zM1108.8 459.6h3.6v5.6h-3.6zM1120.3 454.7h3.6v23.6h-3.6zM1126.1 476.9h3.6v1.0h-3.6zM1131.8 477.6h3.6v6.5h-3.6zM1137.6 485.3h3.6v41.8h-3.6zM1143.4 527.1h3.6v12.4h-3.6zM1154.9 517.7h3.6v73.5h-3.6zM1166.4 578.7h3.6v1.0h-3.6zM1183.7 500.5h3.6v4.7h-3.6zM1224.1 334.5h3.6v52.1h-3.6zM1235.6 356.7h3.6v24.7h-3.6zM1241.4 381.4h3.6v141.7h-3.6zM1247.1 523.1h3.6v37.8h-3.6zM1264.4 486.0h3.6v35.2h-3.6zM1270.2 521.2h3.6v38.9h-3.6zM1276.0 560.1h3.6v45.0h-3.6zM1281.7 605.1h3.6v30.9h-3.6zM1304.8 564.4h3.6v37.8h-3.6zM1310.6 602.8h3.6v13.0h-3.6zM1339.4 497.5h3.6v6.3h-3.6zM1345.1 504.7h3.6v19.3h-3.6zM1350.9 524.9h3.6v48.2h-3.6zM1356.7 573.1h3.6v29.7h-3.6zM1379.7 562.3h3.6v72.7h-3.6zM1385.5 635.0h3.6v93.3h-3.6zM1397.0 683.5h3.6v47.7h-3.6zM1408.6 694.6h3.6v17.3h-3.6zM1425.9 645.4h3.6v53.8h-3.6zM1431.6 699.2h3.6v26.2h-3.6zM1437.4 725.4h3.6v37.9h-3.6zM1443.2 763.4h3.6v98.8h-3.6zM1454.7 842.3h3.6v27.6h-3.6zM1460.4 869.9h3.6v42.0h-3.6zM1472.0 896.0h3.6v29.2h-3.6zM1477.7 925.2h3.6v106.3h-3.6zM1483.5 1031.5h3.6v32.7h-3.6zM1489.3 1064.2h3.6v7.7h-3.6zM1506.6 993.4h3.6v20.6h-3.6zM1523.9 928.3h3.6v8.6h-3.6zM1529.6 936.2h3.6v1.0h-3.6zM1535.4 939.3h3.6v9.3h-3.6zM1541.2 948.6h3.6v87.6h-3.6zM1558.5 884.4h3.6v28.0h-3.6zM1564.2 912.4h3.6v57.7h-3.6zM1570.0 969.6h3.6v1.2h-3.6zM1593.0 900.3h3.6v14.0h-3.6zM1604.6 903.5h3.6v46.2h-3.6zM1610.3 949.3h3.6v1.0h-3.6zM1616.1 951.4h3.6v43.9h-3.6zM1621.9 995.3h3.6v39.0h-3.6zM1633.4 1002.3h3.6v36.2h-3.6zM1639.2 1038.5h3.6v16.3h-3.6zM1662.2 985.5h3.6v1.6h-3.6zM1668.0 987.1h3.6v25.2h-3.6zM1679.5 1008.6h3.6v8.2h-3.6zM1702.6 1002.3h3.6v16.3h-3.6zM1714.1 991.8h3.6v18.2h-3.6zM1748.7 876.7h3.6v2.6h-3.6zM1754.5 879.2h3.6v50.2h-3.6zM1760.2 929.4h3.6v4.7h-3.6zM1766.0 934.1h3.6v11.4h-3.6zM1771.8 945.6h3.6v3.0h-3.6zM1794.8 847.0h3.6v5.1h-3.6z" fill="#ea5841" stroke="#561814" stroke-width="1.6"/>
<polyline points="21.0,1051.4 26.8,1052.4 32.5,1052.8 38.3,1053.1 44.1,1053.7 49.8,1054.1 55.6,1054.7 61.4,1054.4 67.1,1054.7 72.9,1055.0 78.7,1055.4 84.4,1055.2 90.2,1054.8 95.9,1054.3 101.7,1054.0 107.5,1053.6 113.2,1053.9 119.0,1054.5 124.8,1055.2 130.5,1055.9 136.3,1055.9 142.1,1056.6 147.8,1057.1 153.6,1057.4 159.4,1057.8 165.1,1059.4 170.9,1060.8 176.7,1062.8 182.4,1063.3 188.2,1064.5 194.0,1064.9 199.7,1064.9 205.5,1065.2 211.2,1065.3 217.0,1065.6 222.8,1065.8 228.5,1065.8 234.3,1065.9 240.1,1065.9 245.8,1065.8 251.6,1065.3 257.4,1063.4 263.1,1061.5 268.9,1059.5 274.7,1057.4 280.4,1055.4 286.2,1053.5 292.0,1051.4 297.7,1049.5 303.5,1047.6 309.2,1045.2 315.0,1042.8 320.8,1040.6 326.5,1038.8 332.3,1037.0 338.1,1034.6 343.8,1032.3 349.6,1028.6 355.4,1025.1 361.1,1021.1 366.9,1017.4 372.7,1014.0 378.4,1010.4 384.2,1006.9 390.0,1003.4 395.7,1000.0 401.5,996.7 407.3,992.8 413.0,989.0 418.8,985.1 424.6,980.6 430.3,975.8 436.1,971.9 441.8,968.0 447.6,963.8 453.4,959.6 459.1,955.6 464.9,951.9 470.7,948.6 476.4,945.8 482.2,942.8 488.0,939.7 493.7,936.5 499.5,933.5 505.3,930.7 511.0,928.5 516.8,925.8 522.6,922.9 528.3,920.0 534.1,916.1 539.8,912.3 545.6,908.9 551.4,906.2 557.1,903.4 562.9,900.7 568.7,898.0 574.4,895.2 580.2,892.8 586.0,890.4 591.7,888.1 597.5,886.0 603.3,884.2 609.0,882.7 614.8,880.3 620.6,877.8 626.3,875.0 632.1,872.4 637.9,869.7 643.6,867.1 649.4,864.3 655.2,861.7 660.9,859.5 666.7,856.7 672.4,853.7 678.2,851.1 684.0,848.5 689.7,845.7 695.5,843.2 701.3,840.5 707.0,837.4 712.8,833.4 718.6,829.2 724.3,825.0 730.1,820.5 735.9,816.0 741.6,811.9 747.4,807.7 753.2,803.4 758.9,799.4 764.7,795.5 770.5,791.8 776.2,788.0 782.0,783.9 787.7,780.0 793.5,776.2 799.3,772.6 805.0,769.0 810.8,765.2 816.6,761.7 822.3,758.2 828.1,754.8 833.9,751.8 839.6,749.3 845.4,747.0 851.2,744.5 856.9,741.7 862.7,739.2 868.5,736.6 874.2,733.5 880.0,730.6 885.8,727.7 891.5,724.4 897.3,721.2 903.0,717.8 908.8,713.9 914.6,710.9 920.3,708.1 926.1,705.3 931.9,702.6 937.6,700.1 943.4,698.3 949.2,696.2 954.9,694.5 960.7,692.0 966.5,689.8 972.2,688.0 978.0,686.8 983.8,685.3 989.5,683.9 995.3,682.4 1001.0,681.5 1006.8,680.7 1012.6,679.9 1018.3,678.9 1024.1,677.6 1029.9,676.3 1035.6,675.1 1041.4,673.9 1047.2,672.9 1052.9,671.7 1058.7,670.3 1064.5,669.0 1070.2,667.3 1076.0,665.4 1081.8,663.4 1087.5,661.4 1093.3,659.5 1099.1,657.7 1104.8,655.6 1110.6,653.6 1116.3,651.5 1122.1,649.7 1127.9,647.9 1133.6,646.2 1139.4,645.0 1145.2,643.9 1150.9,642.6 1156.7,642.1 1162.5,641.5 1168.2,640.8 1174.0,639.8 1179.8,638.3 1185.5,637.0 1191.3,634.8 1197.1,632.3 1202.8,629.5 1208.6,626.8 1214.4,623.8 1220.1,620.7 1225.9,618.3 1231.6,615.5 1237.4,613.0 1243.2,612.1 1248.9,611.6 1254.7,610.3 1260.5,609.0 1266.2,608.1 1272.0,607.6 1277.8,607.6 1283.5,607.9 1289.3,608.0 1295.1,607.9 1300.8,607.5 1306.6,607.4 1312.4,607.5 1318.1,607.2 1323.9,606.7 1329.7,606.0 1335.4,604.9 1341.2,603.9 1346.9,603.1 1352.7,602.8 1358.5,602.8 1364.2,602.6 1370.0,602.3 1375.8,601.9 1381.5,602.3 1387.3,603.5 1393.1,604.2 1398.8,605.5 1404.6,606.3 1410.4,607.4 1416.1,608.0 1421.9,608.3 1427.7,609.2 1433.4,610.3 1439.2,611.8 1445.0,614.1 1450.7,616.3 1456.5,618.6 1462.2,621.3 1468.0,623.9 1473.8,626.7 1479.5,630.3 1485.3,634.2 1491.1,638.1 1496.8,641.5 1502.6,644.7 1508.4,648.1 1514.1,650.8 1519.9,653.4 1525.7,656.0 1531.4,658.6 1537.2,661.3 1543.0,664.7 1548.7,667.2 1554.5,669.2 1560.3,671.5 1566.0,674.2 1571.8,677.0 1577.5,679.5 1583.3,681.9 1589.1,684.0 1594.8,686.1 1600.6,688.2 1606.4,690.6 1612.1,693.0 1617.9,695.8 1623.7,698.9 1629.4,701.7 1635.2,704.8 1641.0,708.0 1646.7,710.6 1652.5,713.2 1658.3,715.8 1664.0,718.3 1669.8,721.0 1675.6,723.7 1681.3,726.4 1687.1,729.0 1692.8,731.6 1698.6,734.1 1704.4,736.7 1710.1,739.1 1715.9,741.6 1721.7,743.9 1727.4,745.9 1733.2,747.7 1739.0,749.4 1744.7,750.7 1750.5,751.9 1756.3,753.6 1762.0,755.3 1767.8,757.1 1773.6,758.9 1779.3,760.6 1785.1,762.3 1790.9,763.1 1796.6,763.9" fill="none" stroke="#2962ff" stroke-width="2" stroke-linejoin="round"/>
<polyline points="21.0,919.9 26.8,928.6 32.5,934.6 38.3,940.1 44.1,946.9 49.8,952.2 55.6,958.4 61.4,961.0 67.1,965.7 72.9,970.2 78.7,974.9 84.4,977.5 90.2,978.7 95.9,980.0 101.7,981.7 107.5,983.0 113.2,986.7 119.0,991.7 124.8,996.8 130.5,1001.6 136.3,1003.9 142.1,1008.4 147.8,1012.2 153.6,1015.2 159.4,1018.4 165.1,1026.0 170.9,1032.6 176.7,1041.4 182.4,1044.5 188.2,1050.0 194.0,1052.1 199.7,1052.4 205.5,1054.0 211.2,1054.8 217.0,1056.4 222.8,1057.6 228.5,1057.9 234.3,1058.7 240.1,1058.9 245.8,1059.0 251.6,1057.1 257.4,1050.0 263.1,1043.1 268.9,1036.2 274.7,1028.9 280.4,1022.0 286.2,1016.1 292.0,1009.4 297.7,1003.7 303.5,998.2 309.2,991.1 315.0,983.9 320.8,977.8 326.5,973.3 332.3,968.8 338.1,962.6 343.8,956.5 349.6,945.6 355.4,935.3 361.1,924.0 366.9,913.7 372.7,905.0 378.4,895.6 384.2,887.0 390.0,878.7 395.7,870.9 401.5,863.8 407.3,854.3 413.0,845.9 418.8,836.9 424.6,826.2 430.3,814.3 436.1,806.3 441.8,798.4 447.6,789.7 453.4,781.3 459.1,773.5 464.9,766.9 470.7,762.3 476.4,759.0 482.2,755.4 488.0,751.2 493.7,747.0 499.5,743.3 505.3,740.2 511.0,739.6 516.8,737.1 522.6,733.7 528.3,730.3 534.1,723.7 539.8,717.4 545.6,712.5 551.4,710.0 557.1,707.3 562.9,705.2 568.7,703.0 574.4,700.1 580.2,698.9 586.0,697.6 591.7,696.4 597.5,696.3 603.3,697.0 609.0,698.5 614.8,696.8 620.6,694.6 626.3,691.6 632.1,689.0 637.9,686.4 643.6,683.8 649.4,680.6 655.2,678.3 660.9,677.2 666.7,673.8 672.4,670.1 678.2,667.6 684.0,665.2 689.7,662.1 695.5,659.8 701.3,657.1 707.0,652.9 712.8,645.5 718.6,637.4 724.3,629.5 730.1,621.0 735.9,612.3 741.6,605.4 747.4,598.2 753.2,590.9 758.9,584.8 764.7,578.9 770.5,573.7 776.2,568.7 782.0,562.2 787.7,556.7 793.5,551.8 799.3,547.5 805.0,543.3 810.8,538.2 816.6,534.2 822.3,530.5 828.1,526.9 833.9,524.9 839.6,524.7 845.4,525.0 851.2,524.1 856.9,522.7 862.7,521.9 868.5,520.7 874.2,517.8 880.0,515.6 885.8,513.6 891.5,509.8 897.3,506.6 903.0,502.5 908.8,496.6 914.6,494.1 920.3,492.3 926.1,490.5 931.9,488.8 937.6,488.0 943.4,489.4 949.2,489.9 954.9,491.5 960.7,490.2 966.5,490.0 972.2,490.9 978.0,494.1 983.8,496.0 989.5,498.1 995.3,499.4 1001.0,503.3 1006.8,506.8 1012.6,510.5 1018.3,513.5 1024.1,515.1 1029.9,516.2 1035.6,518.0 1041.4,519.6 1047.2,521.6 1052.9,522.9 1058.7,523.5 1064.5,524.5 1070.2,523.7 1076.0,522.0 1081.8,520.0 1087.5,518.2 1093.3,516.8 1099.1,515.5 1104.8,513.3 1110.6,511.4 1116.3,509.1 1122.1,507.9 1127.9,506.7 1133.6,505.8 1139.4,506.6 1145.2,507.9 1150.9,508.3 1156.7,511.5 1162.5,514.1 1168.2,516.6 1174.0,517.4 1179.8,516.7 1185.5,516.3 1191.3,512.8 1197.1,508.2 1202.8,502.7 1208.6,497.3 1214.4,491.5 1220.1,485.0 1225.9,481.1 1231.6,476.0 1237.4,472.2 1243.2,474.2 1248.9,477.5 1254.7,478.0 1260.5,478.3 1266.2,480.0 1272.0,483.0 1277.8,487.7 1283.5,493.3 1289.3,498.2 1295.1,502.0 1300.8,504.4 1306.6,508.1 1312.4,512.3 1318.1,514.6 1323.9,516.2 1329.7,517.3 1335.4,516.6 1341.2,516.1 1346.9,516.4 1352.7,518.6 1358.5,521.8 1364.2,524.1 1370.0,526.1 1375.8,527.6 1381.5,531.7 1387.3,539.0 1393.1,544.5 1398.8,551.5 1404.6,556.9 1410.4,562.7 1416.1,566.8 1421.9,569.8 1427.7,574.7 1433.4,580.4 1439.2,587.2 1445.0,597.3 1450.7,606.4 1456.5,616.0 1462.2,626.8 1468.0,636.7 1473.8,647.2 1479.5,660.9 1485.3,675.2 1491.1,689.3 1496.8,701.4 1502.6,712.1 1508.4,723.1 1514.1,731.3 1519.9,738.7 1525.7,746.1 1531.4,753.2 1537.2,760.5 1543.0,770.6 1548.7,776.6 1554.5,780.7 1560.3,785.7 1566.0,792.6 1571.8,799.3 1577.5,804.9 1583.3,810.2 1589.1,813.6 1594.8,817.5 1600.6,820.8 1606.4,825.7 1612.1,830.4 1617.9,836.6 1623.7,844.0 1629.4,849.9 1635.2,857.0 1641.0,864.4 1646.7,869.4 1652.5,874.1 1658.3,878.4 1664.0,882.5 1669.8,887.4 1675.6,892.0 1681.3,896.8 1687.1,901.3 1692.8,905.2 1698.6,908.8 1704.4,913.0 1710.1,916.0 1715.9,919.6 1721.7,922.1 1727.4,923.5 1733.2,924.3 1739.0,924.3 1744.7,922.5 1750.5,920.7 1756.3,921.1 1762.0,921.6 1767.8,922.5 1773.6,923.5 1779.3,924.1 1785.1,924.4 1790.9,921.3 1796.6,918.6" fill="none" stroke="#f23645" stroke-width="1.8" stroke-linejoin="round"/>
<polyline points="21.0,1017.6 26.8,1030.3 32.5,1035.8 38.3,1040.0 44.1,1047.6 49.8,1051.3 55.6,1057.5 61.4,1054.3 67.1,1057.1 72.9,1059.9 78.7,1062.9 84.4,1060.9 90.2,1056.1 95.9,1051.7 101.7,1049.0 107.5,1045.9 113.2,1049.0 119.0,1055.6 124.8,1062.1 130.5,1067.8 136.3,1067.2 142.1,1072.3 147.8,1075.7 153.6,1077.2 159.4,1079.3 165.1,1092.2 170.9,1102.4 176.7,1118.0 182.4,1118.2 188.2,1125.0 194.0,1122.9 199.7,1116.8 205.5,1114.6 211.2,1110.8 217.0,1109.3 222.8,1107.2 228.5,1103.4 234.3,1100.8 240.1,1097.4 245.8,1093.9 251.6,1085.9 257.4,1065.7 263.1,1047.2 268.9,1030.1 274.7,1013.1 280.4,998.0 286.2,986.2 292.0,973.1 297.7,962.8 303.5,953.7 309.2,940.9 315.0,928.7 320.8,919.5 326.5,914.4 332.3,909.2 338.1,900.3 343.8,891.8 349.6,872.2 355.4,854.9 361.1,836.2 366.9,820.6 372.7,809.0 378.4,796.2 384.2,785.7 390.0,776.0 395.7,767.6 401.5,760.6 407.3,748.3 413.0,738.8 418.8,728.2 424.6,713.5 430.3,696.8 436.1,689.4 441.8,682.0 447.6,673.0 453.4,664.4 459.1,657.4 464.9,653.0 470.7,653.0 476.4,655.5 482.2,656.9 488.0,656.3 493.7,655.4 499.5,655.3 505.3,656.4 511.0,662.9 516.8,664.1 522.6,662.9 528.3,661.6 534.1,652.6 539.8,644.5 545.6,639.9 551.4,640.8 557.1,640.9 562.9,642.1 568.7,643.0 574.4,641.8 580.2,644.4 586.0,646.4 591.7,648.4 597.5,652.7 603.3,658.5 609.0,665.7 614.8,664.7 620.6,662.5 626.3,658.5 632.1,655.3 637.9,652.3 643.6,649.3 649.4,644.8 655.2,642.8 660.9,643.4 666.7,638.6 672.4,633.1 678.2,630.7 684.0,628.3 689.7,624.5 695.5,622.5 701.3,619.7 707.0,613.2 712.8,599.3 718.6,584.4 724.3,570.9 730.1,556.3 735.9,542.0 741.6,532.4 747.4,522.4 753.2,512.4 758.9,505.4 764.7,499.1 770.5,494.5 776.2,490.3 782.0,482.4 787.7,477.1 793.5,473.0 799.3,470.4 805.0,467.7 810.8,462.8 816.6,460.6 822.3,458.7 828.1,457.1 833.9,459.0 839.6,464.6 845.4,470.8 851.2,473.9 856.9,475.3 862.7,478.0 868.5,479.1 874.2,476.2 880.0,474.8 885.8,473.9 891.5,468.7 897.3,464.8 903.0,459.2 908.8,449.1 914.6,447.7 920.3,447.8 926.1,447.8 931.9,447.7 937.6,449.6 943.4,456.7 949.2,461.0 954.9,467.6 960.7,466.8 966.5,468.3 972.2,472.7 978.0,482.0 983.8,487.7 989.5,493.8 995.3,497.3 1001.0,507.0 1006.8,515.2 1012.6,523.4 1018.3,529.5 1024.1,531.7 1029.9,533.0 1035.6,535.6 1041.4,538.1 1047.2,541.1 1052.9,542.4 1058.7,542.1 1064.5,542.6 1070.2,539.1 1076.0,533.5 1081.8,527.5 1087.5,522.2 1093.3,518.6 1099.1,515.2 1104.8,509.8 1110.6,505.5 1116.3,500.6 1122.1,498.5 1127.9,496.5 1133.6,495.3 1139.4,498.3 1145.2,502.2 1150.9,503.7 1156.7,511.8 1162.5,518.1 1168.2,523.9 1174.0,525.1 1179.8,522.7 1185.5,521.0 1191.3,512.2 1197.1,501.1 1202.8,488.4 1208.6,476.8 1214.4,464.7 1220.1,451.9 1225.9,445.6 1231.6,437.0 1237.4,431.6 1243.2,440.1 1248.9,451.3 1254.7,454.8 1260.5,457.8 1266.2,463.7 1272.0,472.7 1277.8,484.9 1283.5,498.8 1289.3,510.3 1295.1,518.4 1300.8,522.7 1306.6,530.2 1312.4,538.2 1318.1,541.4 1323.9,542.8 1329.7,543.1 1335.4,538.7 1341.2,535.3 1346.9,534.3 1352.7,537.9 1358.5,544.0 1364.2,547.6 1370.0,550.1 1375.8,551.5 1381.5,559.3 1387.3,574.8 1393.1,584.9 1398.8,598.3 1404.6,607.3 1410.4,617.0 1416.1,621.9 1421.9,624.1 1427.7,631.1 1433.4,639.9 1439.2,651.3 1445.0,670.4 1450.7,686.1 1456.5,702.9 1462.2,721.8 1468.0,737.8 1473.8,754.8 1479.5,779.5 1485.3,804.9 1491.1,828.8 1496.8,846.7 1502.6,860.2 1508.4,874.3 1514.1,881.0 1519.9,885.5 1525.7,890.3 1531.4,894.7 1537.2,899.8 1543.0,912.4 1548.7,914.0 1554.5,911.1 1560.3,911.2 1566.0,916.8 1571.8,921.9 1577.5,924.4 1583.3,926.1 1589.1,923.6 1594.8,922.7 1600.6,920.9 1606.4,923.6 1612.1,926.2 1617.9,932.6 1623.7,942.1 1629.4,947.7 1635.2,956.2 1641.0,965.4 1646.7,968.4 1652.5,970.7 1658.3,972.1 1664.0,973.5 1669.8,977.2 1675.6,980.2 1681.3,983.6 1687.1,986.5 1692.8,988.1 1698.6,989.3 1704.4,992.1 1710.1,992.1 1715.9,993.8 1721.7,992.8 1727.4,989.4 1733.2,985.0 1739.0,979.3 1744.7,969.3 1750.5,960.5 1756.3,957.6 1762.0,955.3 1767.8,954.4 1773.6,953.8 1779.3,952.4 1785.1,950.4 1790.9,940.3 1796.6,931.7" fill="none" stroke="#1b5e20" stroke-width="1.7" stroke-linejoin="round"/>
</g>
<g font-family='"Liberation Sans", Arial, sans-serif'>
<path d="M1845 1093.5H2383a16 16 0 0 1 16 16V1149a16 16 0 0 1 -16 16H1845L1791.5 1225L1829 1149.5V1109.5a16 16 0 0 1 16 -16z" fill="#3a3129" fill-opacity="0.65" stroke="#000" stroke-width="4.2" stroke-linejoin="round"/>
<text x="1850.0" y="1140.0" font-size="32" fill="#ffffff" textLength="529.0" lengthAdjust="spacingAndGlyphs" font-weight="bold">Volume increased during breakout</text>
<path d="M19.8 254H2689.8" stroke="#141a26" stroke-width="1.9"/>
<path d="M19.8 1377H2689.8M2559 53.9V1431.7" stroke="#4a4a4a" stroke-width="2"/>
<g clip-path="url(#ca)">
<text x="2576.0" y="66.2" font-size="22.5" fill="#4d4f52" textLength="60.0" lengthAdjust="spacingAndGlyphs">80.00</text>
<text x="2576.0" y="130.2" font-size="22.5" fill="#4d4f52" textLength="60.0" lengthAdjust="spacingAndGlyphs">60.00</text>
<text x="2576.0" y="194.3" font-size="22.5" fill="#4d4f52" textLength="60.0" lengthAdjust="spacingAndGlyphs">40.00</text>
<text x="2576.0" y="258.3" font-size="22.5" fill="#4d4f52" textLength="60.0" lengthAdjust="spacingAndGlyphs">20.00</text>
</g>
<text x="2577.5" y="351.9" font-size="23" fill="#4d4f52" textLength="86.4" lengthAdjust="spacingAndGlyphs">124,000</text>
<text x="2577.5" y="414.3" font-size="23" fill="#4d4f52" textLength="86.4" lengthAdjust="spacingAndGlyphs">120,000</text>
<text x="2577.5" y="495.4" font-size="23" fill="#4d4f52" textLength="86.4" lengthAdjust="spacingAndGlyphs">115,000</text>
<text x="2577.5" y="580.0" font-size="23" fill="#4d4f52" textLength="86.4" lengthAdjust="spacingAndGlyphs">110,000</text>
<text x="2577.5" y="650.6" font-size="23" fill="#4d4f52" textLength="86.4" lengthAdjust="spacingAndGlyphs">106,000</text>
<text x="2577.5" y="723.8" font-size="23" fill="#4d4f52" textLength="86.4" lengthAdjust="spacingAndGlyphs">102,000</text>
<text x="2577.5" y="800.0" font-size="23" fill="#4d4f52" textLength="73.6" lengthAdjust="spacingAndGlyphs">98,000</text>
<text x="2577.5" y="962.2" font-size="23" fill="#4d4f52" textLength="73.6" lengthAdjust="spacingAndGlyphs">90,000</text>
<text x="2577.5" y="1026.8" font-size="23" fill="#4d4f52" textLength="73.6" lengthAdjust="spacingAndGlyphs">87,000</text>
<text x="2577.5" y="1093.6" font-size="23" fill="#4d4f52" textLength="73.6" lengthAdjust="spacingAndGlyphs">84,000</text>
<text x="2577.5" y="1162.9" font-size="23" fill="#4d4f52" textLength="73.6" lengthAdjust="spacingAndGlyphs">81,000</text>
<text x="2577.5" y="1222.6" font-size="23" fill="#4d4f52" textLength="73.6" lengthAdjust="spacingAndGlyphs">78,500</text>
<text x="2577.5" y="1281.7" font-size="23" fill="#4d4f52" textLength="73.6" lengthAdjust="spacingAndGlyphs">76,100</text>
<text x="2577.5" y="1342.8" font-size="23" fill="#4d4f52" textLength="73.6" lengthAdjust="spacingAndGlyphs">73,700</text>
<rect x="2566" y="263" width="116" height="52" rx="8" fill="#fff"/>
<text x="2584.0" y="297.0" font-size="24" fill="#111" textLength="51.0" lengthAdjust="spacingAndGlyphs">USD</text>
<rect x="2559" y="608" width="118" height="32" rx="3" fill="#000"/>
<text x="2577.5" y="631.5" font-size="23" fill="#fff" textLength="86.4" lengthAdjust="spacingAndGlyphs">107,144</text>
<path d="M2455 836H2679.2a4 4 0 0 1 4 4V890a4 4 0 0 1 -4 4H2559V868H2455a4 4 0 0 1 -4 -4V840a4 4 0 0 1 4 -4z" fill="#d9513f"/>
<text x="2460.6" y="860.2" font-size="22" fill="#fff" textLength="88.0" lengthAdjust="spacingAndGlyphs">BTCUSD</text>
<text x="2576.3" y="857.9" font-size="22" fill="#fff" textLength="73.5" lengthAdjust="spacingAndGlyphs">95,063</text>
<text x="2578.0" y="884.2" font-size="22" fill="#f6d3cc" textLength="92.4" lengthAdjust="spacingAndGlyphs">16:48:26</text>
<path d="M2559 830V900" stroke="#4a4a4a" stroke-width="2"/>
<text x="136.3" y="1412.0" font-size="22" fill="#4d4f52" text-anchor="middle">Apr</text>
<text x="309.2" y="1412.0" font-size="22" fill="#4d4f52" text-anchor="middle">May</text>
<text x="488.0" y="1412.0" font-size="22" fill="#4d4f52" text-anchor="middle">Jun</text>
<text x="660.9" y="1412.0" font-size="22" fill="#4d4f52" text-anchor="middle">Jul</text>
<text x="839.6" y="1412.0" font-size="22" fill="#4d4f52" text-anchor="middle">Aug</text>
<text x="1018.3" y="1412.0" font-size="22" fill="#4d4f52" text-anchor="middle">Sep</text>
<text x="1191.3" y="1412.0" font-size="22" fill="#4d4f52" text-anchor="middle">Oct</text>
<text x="1370.0" y="1412.0" font-size="22" fill="#4d4f52" text-anchor="middle">Nov</text>
<text x="1543.0" y="1412.0" font-size="22" fill="#4d4f52" text-anchor="middle">Dec</text>
<text x="1900.4" y="1412.0" font-size="22" fill="#4d4f52" text-anchor="middle">Feb</text>
<text x="2061.8" y="1412.0" font-size="22" fill="#4d4f52" text-anchor="middle">Mar</text>
<text x="2240.5" y="1412.0" font-size="22" fill="#4d4f52" text-anchor="middle">Apr</text>
<text x="2413.5" y="1412.0" font-size="22" fill="#4d4f52" text-anchor="middle">May</text>
<text x="1722.2" y="1412.0" font-size="22" fill="#505050" text-anchor="middle" textLength="57.3" lengthAdjust="spacingAndGlyphs" font-weight="bold">2026</text>
<text x="21.0" y="40.0" font-size="26" fill="#d6d6d6" textLength="772.0" lengthAdjust="spacingAndGlyphs">bitcoinwallah created with TradingView.com, Jan 14, 2026 07:11 UTC</text>
<text x="37.2" y="93.7" font-size="24" fill="#4a4c50" textLength="158.5" lengthAdjust="spacingAndGlyphs">RSI (14, close)</text>
<text x="212.8" y="93.7" font-size="24" fill="#7e57c2" textLength="59.5" lengthAdjust="spacingAndGlyphs">65.18</text>
<text x="289.0" y="93.7" font-size="24" fill="#fdd835" textLength="59.2" lengthAdjust="spacingAndGlyphs">57.04</text>
<text x="37.0" y="295.1" font-size="24" fill="#4a4c50" textLength="386.0" lengthAdjust="spacingAndGlyphs">Bitcoin / U.S. Dollar · 1D · Bitstamp</text>
<text x="438" y="295.1" font-size="24" textLength="97.5" lengthAdjust="spacingAndGlyphs"><tspan fill="#4a4c50">O</tspan><tspan fill="#5a1812">95,367</tspan></text>
<text x="550" y="295.1" font-size="24" textLength="91.5" lengthAdjust="spacingAndGlyphs"><tspan fill="#4a4c50">H</tspan><tspan fill="#5a1812">95,751</tspan></text>
<text x="657" y="295.1" font-size="24" textLength="92" lengthAdjust="spacingAndGlyphs"><tspan fill="#4a4c50">L</tspan><tspan fill="#5a1812">94,555</tspan></text>
<text x="764" y="295.1" font-size="24" textLength="97" lengthAdjust="spacingAndGlyphs"><tspan fill="#4a4c50">C</tspan><tspan fill="#5a1812">95,063</tspan></text>
<text x="877.0" y="295.1" font-size="24" fill="#5a1812" textLength="169.0" lengthAdjust="spacingAndGlyphs">−303 (−0.32%)</text>
<text x="37.0" y="329.1" font-size="24" fill="#4a4c50" textLength="176.5" lengthAdjust="spacingAndGlyphs">EMA (50, close)</text>
<text x="229.5" y="329.1" font-size="24" fill="#f23645" textLength="76.5" lengthAdjust="spacingAndGlyphs">91,809</text>
<text x="37.0" y="363.1" font-size="24" fill="#4a4c50" textLength="191.0" lengthAdjust="spacingAndGlyphs">EMA (200, close)</text>
<text x="245.0" y="363.1" font-size="24" fill="#2962ff" textLength="76.5" lengthAdjust="spacingAndGlyphs">99,572</text>
<text x="37.0" y="397.1" font-size="24" fill="#4a4c50" textLength="101.5" lengthAdjust="spacingAndGlyphs">Vol · BTC</text>
<text x="153.0" y="397.1" font-size="24" fill="#ef5350" textLength="50.0" lengthAdjust="spacingAndGlyphs">1.3 K</text>
<text x="37.0" y="431.1" font-size="24" fill="#4a4c50" textLength="176.0" lengthAdjust="spacingAndGlyphs">EMA (20, close)</text>
<text x="229.5" y="431.1" font-size="24" fill="#1b5e20" textLength="71.5" lengthAdjust="spacingAndGlyphs">91,182</text>
<g fill="#d9d9d9"><path d="M23.8 1475.8H48.1V1505.8H35.7V1488.5H23.8z"/><circle cx="57.5" cy="1482" r="6"/><path d="M69 1476H84L72.6 1505.8H58.2z"/></g>
<text x="98.0" y="1505.5" font-size="41" fill="#d9d9d9" textLength="242.0" lengthAdjust="spacingAndGlyphs" font-weight="bold">TradingView</text>
</g>
</svg>
</body></html>
